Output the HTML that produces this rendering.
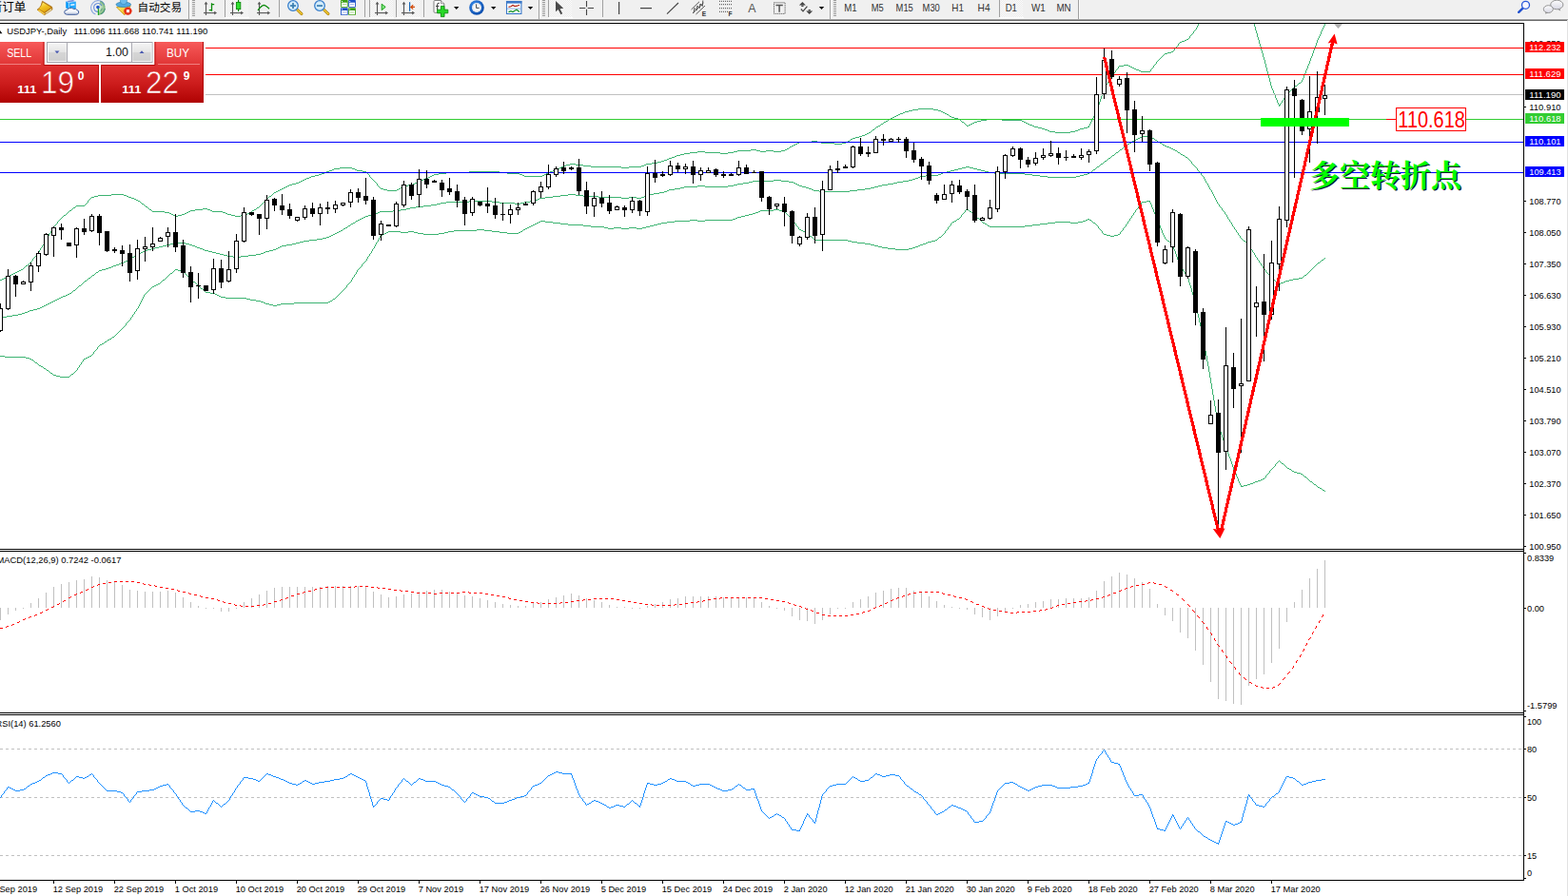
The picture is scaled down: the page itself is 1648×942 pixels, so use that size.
<!DOCTYPE html><html><head><meta charset="utf-8"><title>USDJPY Daily</title><style>html,body{margin:0;padding:0;background:#fff;overflow:hidden;font-family:"Liberation Sans",sans-serif}svg{display:block}</style></head><body><svg width="1648" height="942" viewBox="0 0 1648 942" font-family="Liberation Sans, sans-serif">
<defs><linearGradient id="gBtn" x1="0" y1="0" x2="0" y2="1"><stop offset="0" stop-color="#f75a5a"/><stop offset="1" stop-color="#e03434"/></linearGradient><linearGradient id="gBig" gradientUnits="userSpaceOnUse" x1="0" y1="68" x2="0" y2="108"><stop offset="0" stop-color="#e03232"/><stop offset="0.5" stop-color="#cc1c1c"/><stop offset="1" stop-color="#b00202"/></linearGradient><linearGradient id="gSpin" x1="0" y1="0" x2="0" y2="1"><stop offset="0" stop-color="#f4f4f4"/><stop offset="0.5" stop-color="#e4e4e4"/><stop offset="0.5" stop-color="#d6d6d6"/><stop offset="1" stop-color="#cfcfcf"/></linearGradient><pattern id="chk" width="2" height="2" patternUnits="userSpaceOnUse"><rect width="2" height="2" fill="#fbfbfb"/><rect width="1" height="1" fill="#ebebeb"/><rect x="1" y="1" width="1" height="1" fill="#ebebeb"/></pattern><linearGradient id="gGold" x1="0.2" y1="0" x2="0.7" y2="1"><stop offset="0" stop-color="#fff27a"/><stop offset="0.45" stop-color="#f2c21e"/><stop offset="1" stop-color="#dca010"/></linearGradient><linearGradient id="gCloud" x1="0" y1="0" x2="0" y2="1"><stop offset="0" stop-color="#ffffff"/><stop offset="0.55" stop-color="#f4f6fa"/><stop offset="1" stop-color="#b8c4dc"/></linearGradient><radialGradient id="gSigG" cx="103" cy="8" r="8" gradientUnits="userSpaceOnUse"><stop offset="0.2" stop-color="#c8e4c0" stop-opacity="0.5"/><stop offset="1" stop-color="#58a858" stop-opacity="0.95"/></radialGradient><linearGradient id="gFace" x1="0" y1="0" x2="0.6" y2="1"><stop offset="0" stop-color="#fff070"/><stop offset="1" stop-color="#eab420"/></linearGradient><radialGradient id="gClk" cx="0.4" cy="0.35" r="0.7"><stop offset="0" stop-color="#3a90f0"/><stop offset="1" stop-color="#0848a8"/></radialGradient><linearGradient id="gChat" x1="0" y1="0" x2="0" y2="1"><stop offset="0" stop-color="#fdfdfd"/><stop offset="1" stop-color="#d8d8e4"/></linearGradient></defs>
<rect x="0" y="0" width="1648" height="942" fill="#fff"/>
<clipPath id="cm"><rect x="0" y="25" width="1601" height="552"/></clipPath>
<g clip-path="url(#cm)" shape-rendering="crispEdges">
<path d="M1259 25h1M1318 25h1M1392 25h1M1259 26h1M1318 26h1M1392 26h1M1258 27h1M1318 27h1M1391 27h1M1258 28h1M1319 28h1M1391 28h1M1257 29h1M1319 29h1M1390 29h1M1257 30h1M1319 30h1M1390 30h1M1256 31h1M1319 31h1M1389 31h1M1255 32h1M1320 32h1M1389 32h1M1254 33h1M1320 33h1M1388 33h1M1254 34h1M1320 34h1M1388 34h1M1253 35h1M1321 35h1M1388 35h1M1252 36h1M1321 36h1M1387 36h1M1251 37h1M1321 37h1M1387 37h1M1250 38h1M1321 38h1M1386 38h1M1250 39h1M1322 39h1M1386 39h1M1249 40h1M1322 40h1M1385 40h1M1247 41h2M1322 41h1M1385 41h1M1245 42h2M1323 42h1M1384 42h1M1242 43h3M1323 43h1M1384 43h1M1240 44h2M1323 44h1M1384 44h1M1239 45h1M1323 45h1M1383 45h1M1238 46h1M1324 46h1M1383 46h1M1238 47h1M1324 47h1M1383 47h1M1237 48h1M1324 48h1M1382 48h1M1236 49h1M1325 49h1M1382 49h1M1235 50h1M1325 50h1M1381 50h1M1234 51h1M1325 51h1M1381 51h1M1234 52h1M1325 52h1M1381 52h1M1233 53h1M1326 53h1M1380 53h1M1231 54h2M1326 54h1M1380 54h1M1227 55h4M1326 55h1M1380 55h1M1224 56h3M1327 56h1M1379 56h1M1223 57h1M1327 57h1M1379 57h1M1222 58h1M1327 58h1M1379 58h1M1221 59h1M1327 59h1M1378 59h1M1220 60h1M1328 60h1M1378 60h1M1219 61h1M1328 61h1M1377 61h1M1218 62h1M1328 62h1M1377 62h1M1217 63h1M1329 63h1M1377 63h1M1216 64h1M1329 64h1M1376 64h1M1215 65h1M1329 65h1M1376 65h1M1215 66h1M1329 66h1M1376 66h1M1214 67h1M1330 67h1M1375 67h1M1181 68h5M1213 68h1M1330 68h1M1375 68h1M1176 69h5M1186 69h2M1212 69h1M1330 69h1M1374 69h1M1175 70h1M1188 70h2M1212 70h1M1330 70h1M1374 70h1M1175 71h1M1190 71h2M1211 71h1M1331 71h1M1374 71h1M1174 72h1M1192 72h2M1210 72h1M1331 72h1M1373 72h1M1173 73h1M1194 73h3M1209 73h1M1331 73h1M1373 73h1M1172 74h1M1197 74h2M1209 74h1M1331 74h1M1372 74h1M1172 75h1M1199 75h10M1332 75h1M1372 75h1M1171 76h1M1332 76h1M1372 76h1M1170 77h1M1332 77h1M1371 77h1M1169 78h1M1333 78h1M1371 78h1M1169 79h1M1333 79h1M1370 79h1M1168 80h1M1333 80h1M1370 80h1M1167 81h1M1333 81h1M1370 81h1M1167 82h1M1334 82h1M1369 82h1M1166 83h1M1334 83h1M1369 83h1M1166 84h1M1334 84h1M1368 84h1M1165 85h1M1334 85h1M1368 85h1M1164 86h1M1335 86h1M1367 86h1M1164 87h1M1335 87h1M1365 87h2M1163 88h1M1335 88h1M1364 88h1M1162 89h1M1335 89h1M1363 89h1M1162 90h1M1336 90h1M1361 90h2M1161 91h1M1336 91h1M1360 91h1M1161 92h1M1336 92h1M1359 92h1M1160 93h1M1337 93h1M1358 93h1M1160 94h1M1337 94h1M1357 94h1M1159 95h1M1338 95h1M1356 95h1M1159 96h1M1338 96h1M1355 96h1M1159 97h1M1338 97h1M1354 97h1M1158 98h1M1339 98h1M1353 98h1M1158 99h1M1339 99h1M1352 99h1M1158 100h1M1340 100h1M1351 100h1M1157 101h1M1340 101h1M1351 101h1M1157 102h1M1340 102h1M1350 102h1M1157 103h1M1341 103h1M1349 103h1M1156 104h1M1341 104h1M1349 104h1M1156 105h1M1342 105h1M1348 105h1M1156 106h1M1342 106h1M1347 106h1M1155 107h1M1342 107h1M1347 107h1M1155 108h1M1343 108h1M1346 108h1M1155 109h1M1343 109h1M1345 109h1M1154 110h1M1344 110h2M1154 111h1M1344 111h1M1154 112h1M1153 113h1M965 114h16M1153 114h1M959 115h6M981 115h5M1153 115h1M955 116h4M986 116h3M1152 116h1M951 117h4M989 117h2M1152 117h1M949 118h2M991 118h2M1151 118h1M946 119h3M993 119h2M1151 119h1M944 120h2M995 120h2M1150 120h1M942 121h2M997 121h1M1150 121h1M940 122h2M998 122h2M1149 122h1M938 123h2M1000 123h3M1149 123h1M936 124h2M1003 124h4M1148 124h1M934 125h2M1007 125h2M1037 125h16M1148 125h1M933 126h1M1009 126h1M1031 126h6M1053 126h21M1147 126h1M931 127h2M1010 127h1M1027 127h4M1074 127h2M1147 127h1M929 128h2M1011 128h2M1024 128h3M1076 128h2M1146 128h1M928 129h1M1013 129h1M1022 129h2M1078 129h2M1146 129h1M926 130h2M1014 130h1M1020 130h2M1080 130h2M1145 130h1M925 131h1M1015 131h1M1018 131h2M1082 131h3M1145 131h1M923 132h2M1016 132h2M1085 132h2M1144 132h1M921 133h2M1087 133h4M1143 133h2M920 134h1M1091 134h4M1139 134h4M919 135h1M1095 135h3M1135 135h4M917 136h2M1098 136h3M1133 136h2M916 137h1M1101 137h2M1130 137h3M915 138h1M1103 138h6M1125 138h5M913 139h2M1109 139h16M911 140h2M909 141h2M906 142h3M903 143h3M899 144h4M896 145h3M894 146h2M893 147h1M853 148h6M891 148h2M840 149h13M859 149h4M889 149h2M838 150h2M863 150h14M885 150h4M836 151h2M877 151h8M834 152h2M832 153h2M830 154h2M829 155h1M827 156h2M789 157h6M825 157h2M775 158h14M795 158h4M805 158h8M821 158h4M733 159h8M771 159h4M799 159h6M813 159h8M725 160h8M741 160h16M765 160h6M719 161h6M757 161h8M715 162h4M711 163h4M709 164h2M706 165h3M703 166h3M701 167h2M698 168h3M695 169h3M691 170h4M685 171h6M599 172h6M679 172h6M595 173h4M605 173h8M677 173h2M592 174h3M613 174h8M674 174h3M590 175h2M621 175h32M661 175h13M357 176h13M588 176h2M653 176h8M351 177h6M370 177h3M586 177h2M349 178h2M373 178h2M583 178h3M346 179h3M375 179h6M581 179h2M343 180h3M381 180h4M493 180h32M578 180h3M341 181h2M385 181h1M469 181h24M525 181h8M576 181h2M338 182h3M386 182h1M461 182h8M533 182h13M574 182h2M335 183h3M387 183h1M456 183h5M546 183h3M572 183h2M331 184h4M388 184h1M454 184h2M549 184h2M570 184h2M327 185h4M388 185h1M452 185h2M551 185h19M325 186h2M389 186h1M450 186h2M322 187h3M390 187h1M447 187h3M320 188h2M391 188h1M445 188h2M318 189h2M392 189h1M442 189h3M316 190h2M393 190h1M440 190h2M314 191h2M394 191h1M438 191h2M311 192h3M395 192h1M436 192h2M307 193h4M396 193h1M434 193h2M304 194h3M396 194h1M429 194h5M302 195h2M397 195h1M424 195h5M300 196h2M398 196h1M422 196h2M298 197h2M399 197h1M421 197h1M296 198h2M400 198h3M419 198h2M294 199h2M403 199h4M417 199h2M292 200h2M407 200h10M290 201h2M288 202h2M287 203h1M117 204h13M286 204h1M103 205h14M130 205h3M285 205h1M99 206h4M133 206h2M283 206h2M96 207h3M135 207h3M282 207h1M95 208h1M138 208h3M281 208h1M94 209h1M141 209h2M280 209h1M93 210h1M143 210h2M279 210h1M92 211h1M145 211h2M278 211h1M92 212h1M147 212h1M277 212h1M91 213h1M148 213h1M276 213h1M90 214h1M149 214h2M275 214h1M89 215h1M151 215h1M274 215h1M80 216h9M152 216h1M273 216h1M79 217h1M153 217h2M272 217h1M77 218h2M155 218h1M270 218h2M76 219h1M156 219h1M213 219h5M269 219h1M75 220h1M157 220h2M205 220h8M218 220h3M267 220h2M73 221h2M159 221h1M200 221h5M221 221h2M265 221h2M72 222h1M160 222h13M198 222h2M223 222h11M264 222h1M71 223h1M173 223h5M196 223h2M234 223h3M262 223h2M70 224h1M178 224h2M194 224h2M237 224h2M260 224h2M69 225h1M180 225h2M191 225h3M239 225h4M258 225h2M67 226h2M182 226h2M187 226h4M243 226h4M253 226h5M66 227h1M184 227h3M247 227h6M65 228h1M64 229h1M63 230h1M62 231h1M61 232h1M60 233h1M60 234h1M59 235h1M58 236h1M57 237h1M56 238h1M55 239h1M55 240h1M54 241h1M54 242h1M53 243h1M53 244h1M52 245h1M51 246h1M51 247h1M50 248h1M50 249h1M49 250h1M49 251h1M48 252h1M47 253h1M47 254h1M46 255h1M46 256h1M45 257h1M44 258h1M44 259h1M43 260h1M42 261h1M42 262h1M41 263h1M41 264h1M40 265h1M39 266h1M38 267h1M38 268h1M37 269h1M36 270h1M35 271h1M34 272h1M34 273h1M33 274h1M32 275h1M31 276h1M30 277h1M29 278h1M27 279h2M26 280h1M25 281h1M24 282h1M22 283h2M20 284h2M18 285h2M16 286h2M14 287h2M12 288h2M10 289h2M8 290h2M6 291h2M4 292h2M2 293h2M0 294h2" stroke="#3cb371" stroke-width="1" fill="none" transform="translate(0,0.5)"/>
<path d="M1200 143h9M1198 144h2M1209 144h2M1196 145h2M1211 145h2M1194 146h2M1213 146h1M1192 147h2M1214 147h2M1190 148h2M1216 148h1M1189 149h1M1217 149h2M1187 150h2M1219 150h2M1185 151h2M1221 151h1M1184 152h1M1222 152h2M1183 153h1M1224 153h2M1181 154h2M1226 154h3M1180 155h1M1229 155h2M1179 156h1M1231 156h2M1177 157h2M1233 157h2M1176 158h1M1235 158h2M1175 159h1M1237 159h1M1173 160h2M1238 160h2M1172 161h1M1240 161h1M1171 162h1M1241 162h2M1169 163h2M1243 163h2M1168 164h1M1245 164h1M1167 165h1M1246 165h2M1165 166h2M1248 166h1M1164 167h1M1249 167h1M1163 168h1M1250 168h1M1161 169h2M1251 169h1M1160 170h1M1252 170h1M1159 171h1M1252 171h1M1157 172h2M1253 172h1M1156 173h1M1254 173h1M1155 174h1M1255 174h1M1015 175h4M1153 175h2M1256 175h1M1011 176h4M1019 176h4M1152 176h1M1257 176h1M1007 177h4M1023 177h4M1151 177h1M1258 177h1M1003 178h4M1027 178h4M1149 178h2M1258 178h1M999 179h4M1031 179h4M1148 179h1M1259 179h1M995 180h4M1035 180h4M1147 180h1M1260 180h1M991 181h4M1039 181h6M1145 181h2M1261 181h1M989 182h2M1045 182h32M1143 182h2M1262 182h1M986 183h3M1077 183h8M1139 183h4M1262 183h1M973 184h13M1085 184h8M1135 184h4M1263 184h1M967 185h6M1093 185h8M1131 185h4M1264 185h1M965 186h2M1101 186h30M1265 186h1M962 187h3M1265 187h1M959 188h3M1266 188h1M813 189h8M955 189h4M1266 189h1M791 190h22M821 190h8M949 190h6M1267 190h1M787 191h4M829 191h5M943 191h6M1267 191h1M781 192h6M834 192h2M939 192h4M1268 192h1M775 193h6M836 193h2M933 193h6M1269 193h1M771 194h4M838 194h2M927 194h6M1269 194h1M733 195h8M765 195h6M840 195h3M923 195h4M1270 195h1M719 196h14M741 196h24M843 196h4M919 196h4M1270 196h1M715 197h4M847 197h3M915 197h4M1271 197h1M709 198h6M850 198h3M909 198h6M1271 198h1M703 199h6M853 199h2M901 199h8M1272 199h1M701 200h2M855 200h6M893 200h8M1273 200h1M698 201h3M861 201h32M1273 201h1M693 202h5M1274 202h1M687 203h6M1274 203h1M597 204h8M683 204h4M1275 204h1M589 205h8M605 205h8M679 205h4M1275 205h1M581 206h8M613 206h16M677 206h2M1276 206h1M573 207h8M629 207h24M661 207h8M674 207h3M1276 207h1M567 208h6M653 208h8M669 208h5M1277 208h1M565 209h2M1277 209h1M562 210h3M1278 210h1M493 211h24M557 211h5M1278 211h1M469 212h24M517 212h8M551 212h6M1279 212h1M463 213h6M525 213h16M547 213h4M1279 213h1M459 214h4M541 214h6M1280 214h1M453 215h6M1281 215h1M445 216h8M1281 216h1M437 217h8M1282 217h1M431 218h6M1283 218h1M427 219h4M1284 219h1M421 220h6M1284 220h1M413 221h8M1285 221h1M399 222h14M1286 222h1M397 223h2M1287 223h1M394 224h3M1287 224h1M391 225h3M1288 225h1M387 226h4M1289 226h1M384 227h3M1289 227h1M382 228h2M1290 228h1M380 229h2M1290 229h1M378 230h2M1291 230h1M376 231h2M1292 231h1M374 232h2M1292 232h1M373 233h1M1293 233h1M371 234h2M1294 234h1M369 235h2M1294 235h1M368 236h1M1295 236h1M366 237h2M1295 237h1M365 238h1M1296 238h1M363 239h2M1297 239h1M361 240h2M1297 240h1M360 241h1M1298 241h1M358 242h2M1299 242h1M356 243h2M1299 243h1M354 244h2M1300 244h1M352 245h2M1301 245h1M350 246h2M1301 246h1M348 247h2M1302 247h1M346 248h2M1303 248h1M343 249h3M1303 249h1M339 250h4M1304 250h1M333 251h6M1305 251h1M325 252h8M1306 252h1M319 253h6M1307 253h2M315 254h4M1309 254h1M183 255h12M311 255h4M1310 255h1M179 256h4M195 256h4M307 256h4M1311 256h1M175 257h4M199 257h3M301 257h6M1312 257h1M171 258h4M202 258h3M296 258h5M1313 258h1M167 259h4M205 259h2M294 259h2M1313 259h1M163 260h4M207 260h3M292 260h2M1314 260h1M159 261h4M210 261h3M290 261h2M1314 261h1M155 262h4M213 262h2M287 262h3M1315 262h1M152 263h3M215 263h4M283 263h4M1316 263h1M150 264h2M219 264h4M279 264h4M1316 264h1M148 265h2M223 265h4M277 265h2M1317 265h1M146 266h2M227 266h4M274 266h3M1318 266h1M144 267h2M231 267h4M269 267h5M1318 267h1M142 268h2M235 268h4M261 268h8M1319 268h1M141 269h1M239 269h6M253 269h8M1319 269h1M139 270h2M245 270h8M1320 270h1M137 271h2M1321 271h1M1392 271h1M136 272h1M1321 272h1M1391 272h1M134 273h2M1322 273h1M1389 273h2M132 274h2M1323 274h1M1388 274h1M130 275h2M1323 275h1M1387 275h1M127 276h3M1324 276h1M1385 276h2M125 277h2M1325 277h1M1384 277h1M122 278h3M1325 278h1M1383 278h1M119 279h3M1326 279h1M1382 279h1M117 280h2M1327 280h1M1381 280h1M114 281h3M1327 281h1M1380 281h1M111 282h3M1328 282h1M1379 282h1M107 283h4M1329 283h1M1378 283h1M104 284h3M1330 284h1M1377 284h1M103 285h1M1330 285h1M1376 285h1M101 286h2M1331 286h1M1375 286h1M100 287h1M1332 287h1M1374 287h1M99 288h1M1333 288h1M1373 288h1M97 289h2M1334 289h1M1371 289h2M96 290h1M1334 290h1M1370 290h1M95 291h1M1335 291h1M1369 291h1M93 292h2M1336 292h1M1365 292h4M92 293h1M1337 293h2M1359 293h6M91 294h1M1339 294h1M1355 294h4M89 295h2M1340 295h1M1351 295h4M88 296h1M1341 296h2M1349 296h2M87 297h1M1343 297h1M1346 297h3M86 298h1M1344 298h2M85 299h1M83 300h2M82 301h1M81 302h1M80 303h1M79 304h1M77 305h2M76 306h1M75 307h1M73 308h2M71 309h2M69 310h2M66 311h3M64 312h2M62 313h2M60 314h2M58 315h2M56 316h2M54 317h2M52 318h2M50 319h2M48 320h2M46 321h2M44 322h2M42 323h2M39 324h3M35 325h4M31 326h4M29 327h2M26 328h3M23 329h3M19 330h4M13 331h6M7 332h6M3 333h4M0 334h3" stroke="#3cb371" stroke-width="1" fill="none" transform="translate(0,0.5)"/>
<path d="M1205 211h4M1200 212h5M1208 212h1M1199 213h1M1209 213h1M1199 214h1M1209 214h1M1198 215h1M1210 215h1M1197 216h1M1210 216h1M1196 217h1M1210 217h1M1196 218h1M1211 218h1M1016 219h1M1195 219h1M1211 219h1M813 220h6M1015 220h1M1017 220h1M1194 220h1M1212 220h1M799 221h14M819 221h4M1014 221h1M1018 221h1M1193 221h1M1212 221h1M797 222h2M823 222h2M1014 222h1M1019 222h2M1193 222h1M1212 222h1M794 223h3M825 223h1M1013 223h1M1021 223h1M1192 223h1M1213 223h1M791 224h3M826 224h1M1012 224h1M1022 224h1M1191 224h1M1213 224h1M787 225h4M827 225h1M1011 225h1M1023 225h1M1191 225h1M1214 225h1M783 226h4M828 226h1M1010 226h1M1024 226h1M1190 226h1M1214 226h1M779 227h4M829 227h1M1010 227h1M1025 227h1M1189 227h1M1214 227h1M775 228h4M830 228h1M1009 228h1M1026 228h1M1189 228h1M1215 228h1M773 229h2M831 229h1M1008 229h1M1027 229h2M1188 229h1M1215 229h1M770 230h3M832 230h1M1006 230h2M1029 230h1M1143 230h2M1187 230h1M1216 230h1M725 231h8M741 231h29M833 231h1M1005 231h1M1030 231h1M1141 231h2M1145 231h2M1187 231h1M1216 231h1M568 232h5M709 232h16M733 232h8M833 232h1M1003 232h2M1031 232h1M1138 232h3M1147 232h1M1186 232h1M1216 232h1M566 233h2M573 233h8M701 233h8M834 233h1M1001 233h2M1032 233h1M1109 233h16M1133 233h5M1148 233h1M1185 233h1M1217 233h1M564 234h2M581 234h8M695 234h6M835 234h1M1000 234h1M1033 234h2M1101 234h8M1125 234h8M1149 234h2M1185 234h1M1217 234h1M562 235h2M589 235h8M691 235h4M836 235h1M999 235h1M1035 235h2M1093 235h8M1151 235h1M1184 235h1M1218 235h1M560 236h2M597 236h16M687 236h4M836 236h1M999 236h1M1037 236h1M1085 236h8M1152 236h1M1183 236h1M1218 236h1M558 237h2M613 237h8M683 237h4M837 237h1M998 237h1M1038 237h2M1077 237h8M1153 237h1M1183 237h1M1219 237h1M556 238h2M621 238h14M679 238h4M838 238h1M997 238h1M1040 238h37M1154 238h1M1182 238h1M1219 238h1M554 239h2M635 239h4M645 239h8M661 239h8M675 239h4M839 239h1M996 239h1M1154 239h1M1181 239h1M1219 239h1M552 240h2M639 240h6M653 240h8M669 240h6M839 240h1M996 240h1M1155 240h1M1180 240h1M1220 240h1M501 241h8M550 241h2M840 241h2M995 241h1M1156 241h1M1180 241h1M1220 241h1M477 242h24M509 242h8M549 242h1M842 242h2M994 242h1M1157 242h1M1179 242h1M1221 242h1M408 243h13M429 243h6M471 243h6M517 243h8M547 243h2M844 243h2M993 243h1M1158 243h1M1178 243h1M1221 243h1M406 244h2M421 244h8M435 244h4M467 244h4M525 244h8M545 244h2M846 244h2M993 244h1M1158 244h1M1177 244h1M1221 244h1M404 245h2M439 245h6M461 245h6M533 245h12M848 245h1M992 245h1M1159 245h1M1177 245h1M1222 245h1M402 246h2M445 246h16M849 246h1M991 246h1M1160 246h3M1175 246h2M1222 246h1M400 247h2M850 247h1M990 247h1M1163 247h4M1171 247h4M1223 247h1M399 248h1M851 248h2M989 248h1M1167 248h4M1223 248h1M399 249h1M853 249h1M987 249h2M1224 249h1M398 250h1M854 250h1M986 250h1M1224 250h1M398 251h1M855 251h1M985 251h1M1225 251h1M397 252h1M856 252h35M983 252h2M1226 252h1M397 253h1M891 253h4M979 253h4M1227 253h2M396 254h1M895 254h6M975 254h4M1229 254h1M395 255h1M901 255h8M973 255h2M1230 255h1M395 256h1M909 256h6M970 256h3M1231 256h1M394 257h1M915 257h4M967 257h3M1232 257h1M394 258h1M919 258h4M965 258h2M1232 258h1M393 259h1M923 259h4M962 259h3M1233 259h1M393 260h1M927 260h6M959 260h3M1233 260h1M392 261h1M933 261h8M955 261h4M1233 261h1M391 262h1M941 262h14M1234 262h1M391 263h1M1234 263h1M390 264h1M1235 264h1M390 265h1M1235 265h1M389 266h1M1235 266h1M388 267h1M1236 267h1M388 268h1M1236 268h1M387 269h1M1236 269h1M386 270h1M1237 270h1M386 271h1M1237 271h1M385 272h1M1237 272h1M385 273h1M1238 273h1M384 274h1M1238 274h1M383 275h1M1239 275h1M382 276h1M1239 276h1M381 277h1M1239 277h1M380 278h1M1240 278h1M380 279h1M1240 279h1M379 280h1M1241 280h1M378 281h1M1241 281h1M377 282h1M1242 282h1M184 283h3M376 283h1M1243 283h1M183 284h1M187 284h4M375 284h1M1243 284h1M182 285h1M191 285h2M375 285h1M1244 285h1M181 286h1M193 286h1M374 286h1M1245 286h1M179 287h2M194 287h1M374 287h1M1245 287h1M178 288h1M195 288h1M373 288h1M1246 288h1M177 289h1M196 289h1M372 289h1M1247 289h1M176 290h1M197 290h1M372 290h1M1247 290h1M175 291h1M198 291h1M371 291h1M1248 291h1M174 292h1M199 292h1M370 292h1M1248 292h1M173 293h1M200 293h1M370 293h1M1249 293h1M171 294h2M201 294h1M369 294h1M1249 294h1M170 295h1M202 295h1M369 295h1M1249 295h1M169 296h1M203 296h2M368 296h1M1249 296h1M168 297h1M205 297h1M367 297h1M1250 297h1M166 298h2M206 298h1M366 298h1M1250 298h1M164 299h2M207 299h1M365 299h1M1250 299h1M162 300h2M208 300h1M364 300h1M1251 300h1M160 301h2M209 301h1M364 301h1M1251 301h1M159 302h1M210 302h1M363 302h1M1251 302h1M158 303h1M211 303h2M362 303h1M1252 303h1M157 304h1M213 304h1M361 304h1M1252 304h1M156 305h1M214 305h1M360 305h1M1252 305h1M155 306h1M215 306h1M359 306h1M1252 306h1M154 307h1M216 307h5M358 307h1M1253 307h1M153 308h1M221 308h5M357 308h1M1253 308h1M152 309h1M226 309h2M356 309h1M1253 309h1M151 310h1M228 310h2M355 310h1M1254 310h1M151 311h1M230 311h2M354 311h1M1254 311h1M150 312h1M232 312h5M353 312h1M1254 312h1M150 313h1M237 313h22M352 313h1M1255 313h1M149 314h1M259 314h4M350 314h2M1255 314h1M149 315h1M263 315h6M349 315h1M1255 315h1M148 316h1M269 316h5M347 316h2M1255 316h1M148 317h1M274 317h3M345 317h2M1256 317h1M147 318h1M277 318h2M309 318h36M1256 318h1M147 319h1M279 319h4M295 319h14M1256 319h1M146 320h1M283 320h4M291 320h4M1256 320h1M146 321h1M287 321h4M1257 321h1M145 322h1M1257 322h1M145 323h1M1257 323h1M144 324h1M1257 324h1M143 325h1M1258 325h1M143 326h1M1258 326h1M142 327h1M1258 327h1M141 328h1M1258 328h1M141 329h1M1258 329h1M140 330h1M1259 330h1M139 331h1M1259 331h1M139 332h1M1259 332h1M138 333h1M1259 333h1M137 334h1M1260 334h1M137 335h1M1260 335h1M136 336h1M1260 336h1M135 337h1M1260 337h1M134 338h1M1260 338h1M133 339h1M1261 339h1M132 340h1M1261 340h1M132 341h1M1261 341h1M131 342h1M1261 342h1M130 343h1M1262 343h1M129 344h1M1262 344h1M128 345h1M1262 345h1M127 346h1M1262 346h1M126 347h1M1262 347h1M125 348h1M1263 348h1M124 349h1M1263 349h1M123 350h1M1263 350h1M122 351h1M1263 351h1M121 352h1M1264 352h1M120 353h1M1264 353h1M118 354h2M1264 354h1M117 355h1M1264 355h1M115 356h2M1264 356h1M113 357h2M1265 357h1M112 358h1M1265 358h1M110 359h2M1265 359h1M109 360h1M1265 360h1M107 361h2M1265 361h1M105 362h2M1265 362h1M104 363h1M1266 363h1M103 364h1M1266 364h1M102 365h1M1266 365h1M102 366h1M1266 366h1M101 367h1M1266 367h1M100 368h1M1266 368h1M99 369h1M1267 369h1M98 370h1M1267 370h1M98 371h1M1267 371h1M97 372h1M1267 372h1M96 373h1M1267 373h1M0 374h5M94 374h2M1268 374h1M5 375h22M92 375h2M1268 375h1M27 376h4M90 376h2M1268 376h1M31 377h2M88 377h2M1268 377h1M33 378h2M87 378h1M1268 378h1M35 379h1M87 379h1M1268 379h1M36 380h1M86 380h1M1269 380h1M37 381h2M85 381h1M1269 381h1M39 382h1M85 382h1M1269 382h1M40 383h1M84 383h1M1269 383h1M41 384h2M83 384h1M1269 384h1M43 385h2M83 385h1M1270 385h1M45 386h1M82 386h1M1270 386h1M46 387h2M81 387h1M1270 387h1M48 388h1M81 388h1M1270 388h1M49 389h2M80 389h1M1270 389h1M51 390h1M79 390h1M1270 390h1M52 391h1M78 391h1M1271 391h1M53 392h2M77 392h1M1271 392h1M55 393h1M75 393h2M1271 393h1M56 394h3M74 394h1M1271 394h1M59 395h4M73 395h1M1271 395h1M63 396h10M1271 396h1M1272 397h1M1272 398h1M1272 399h1M1272 400h1M1272 401h1M1272 402h1M1273 403h1M1273 404h1M1273 405h1M1273 406h1M1273 407h1M1273 408h1M1274 409h1M1274 410h1M1274 411h1M1274 412h1M1274 413h1M1274 414h1M1275 415h1M1275 416h1M1275 417h1M1275 418h1M1275 419h1M1275 420h1M1276 421h1M1276 422h1M1276 423h1M1276 424h1M1276 425h1M1276 426h1M1277 427h1M1277 428h1M1277 429h1M1277 430h1M1277 431h1M1277 432h1M1278 433h1M1278 434h1M1278 435h1M1278 436h1M1278 437h1M1278 438h1M1279 439h1M1279 440h1M1279 441h1M1279 442h1M1279 443h1M1279 444h1M1280 445h1M1280 446h1M1280 447h1M1280 448h1M1281 449h1M1281 450h1M1281 451h1M1282 452h1M1282 453h1M1283 454h1M1283 455h1M1283 456h1M1284 457h1M1284 458h1M1284 459h1M1285 460h1M1285 461h1M1285 462h1M1286 463h1M1286 464h1M1287 465h1M1287 466h1M1287 467h1M1288 468h1M1288 469h1M1288 470h1M1289 471h1M1289 472h1M1289 473h1M1290 474h1M1290 475h1M1290 476h1M1291 477h1M1291 478h1M1291 479h1M1292 480h1M1292 481h1M1293 482h1M1293 483h1M1293 484h1M1344 484h1M1294 485h1M1343 485h1M1345 485h1M1294 486h1M1342 486h1M1346 486h1M1294 487h1M1341 487h1M1347 487h2M1295 488h1M1340 488h1M1349 488h1M1295 489h1M1340 489h1M1350 489h1M1295 490h1M1339 490h1M1351 490h1M1296 491h1M1338 491h1M1352 491h1M1296 492h1M1337 492h1M1353 492h2M1296 493h1M1336 493h1M1355 493h2M1297 494h1M1335 494h1M1357 494h1M1297 495h1M1334 495h1M1358 495h2M1298 496h1M1334 496h1M1360 496h3M1298 497h1M1333 497h1M1363 497h4M1299 498h1M1332 498h1M1367 498h2M1299 499h1M1331 499h1M1369 499h1M1299 500h1M1330 500h1M1370 500h1M1300 501h1M1330 501h1M1371 501h2M1300 502h1M1329 502h1M1373 502h1M1301 503h1M1327 503h2M1374 503h1M1301 504h1M1325 504h2M1375 504h1M1301 505h1M1322 505h3M1376 505h1M1302 506h1M1319 506h3M1377 506h2M1302 507h1M1317 507h2M1379 507h1M1303 508h1M1314 508h3M1380 508h1M1303 509h1M1311 509h3M1381 509h2M1304 510h1M1307 510h4M1383 510h1M1304 511h3M1384 511h1M1385 512h2M1387 513h2M1389 514h1M1390 515h2M1392 516h1" stroke="#3cb371" stroke-width="1" fill="none" transform="translate(0,0.5)"/>
</g>
<g shape-rendering="crispEdges">
<rect x="0" y="50" width="1601" height="1" fill="#ff0000"/>
<rect x="0" y="78" width="1601" height="1" fill="#ff0000"/>
<rect x="0" y="99" width="1601" height="1" fill="#c0c0c0"/>
<rect x="0" y="125" width="1601" height="1" fill="#32cd32"/>
<rect x="0" y="149" width="1601" height="1" fill="#0000ff"/>
<rect x="0" y="181" width="1601" height="1" fill="#0000ff"/>
</g>
<g shape-rendering="crispEdges">
<rect x="0" y="319" width="1" height="30" fill="#000"/>
<rect x="0" y="324" width="3" height="24" fill="#000"/>
<rect x="0" y="325" width="2" height="22" fill="#fff"/>
<rect x="8" y="283" width="1" height="43" fill="#000"/>
<rect x="6" y="290" width="5" height="35" fill="#000"/>
<rect x="7" y="291" width="3" height="33" fill="#fff"/>
<rect x="16" y="289" width="1" height="23" fill="#000"/>
<rect x="14" y="290" width="5" height="9" fill="#000"/>
<rect x="24" y="295" width="1" height="4" fill="#000"/>
<rect x="22" y="296" width="5" height="3" fill="#000"/>
<rect x="23" y="297" width="3" height="1" fill="#fff"/>
<rect x="32" y="276" width="1" height="30" fill="#000"/>
<rect x="30" y="279" width="5" height="18" fill="#000"/>
<rect x="31" y="280" width="3" height="16" fill="#fff"/>
<rect x="40" y="264" width="1" height="22" fill="#000"/>
<rect x="38" y="266" width="5" height="14" fill="#000"/>
<rect x="39" y="267" width="3" height="12" fill="#fff"/>
<rect x="48" y="245" width="1" height="24" fill="#000"/>
<rect x="46" y="246" width="5" height="22" fill="#000"/>
<rect x="47" y="247" width="3" height="20" fill="#fff"/>
<rect x="56" y="238" width="1" height="32" fill="#000"/>
<rect x="54" y="239" width="5" height="9" fill="#000"/>
<rect x="55" y="240" width="3" height="7" fill="#fff"/>
<rect x="64" y="235" width="1" height="17" fill="#000"/>
<rect x="62" y="239" width="5" height="3" fill="#000"/>
<rect x="72" y="255" width="1" height="4" fill="#000"/>
<rect x="70" y="255" width="5" height="4" fill="#000"/>
<rect x="80" y="239" width="1" height="32" fill="#000"/>
<rect x="78" y="240" width="5" height="18" fill="#000"/>
<rect x="79" y="241" width="3" height="16" fill="#fff"/>
<rect x="88" y="230" width="1" height="17" fill="#000"/>
<rect x="86" y="240" width="5" height="4" fill="#000"/>
<rect x="96" y="225" width="1" height="19" fill="#000"/>
<rect x="94" y="227" width="5" height="16" fill="#000"/>
<rect x="95" y="228" width="3" height="14" fill="#fff"/>
<rect x="104" y="225" width="1" height="33" fill="#000"/>
<rect x="102" y="227" width="5" height="18" fill="#000"/>
<rect x="112" y="243" width="1" height="22" fill="#000"/>
<rect x="110" y="243" width="5" height="21" fill="#000"/>
<rect x="120" y="260" width="1" height="6" fill="#000"/>
<rect x="118" y="262" width="5" height="2" fill="#000"/>
<rect x="128" y="258" width="1" height="22" fill="#000"/>
<rect x="126" y="263" width="5" height="4" fill="#000"/>
<rect x="136" y="257" width="1" height="39" fill="#000"/>
<rect x="134" y="266" width="5" height="21" fill="#000"/>
<rect x="144" y="252" width="1" height="42" fill="#000"/>
<rect x="142" y="261" width="5" height="24" fill="#000"/>
<rect x="143" y="262" width="3" height="22" fill="#fff"/>
<rect x="152" y="249" width="1" height="26" fill="#000"/>
<rect x="150" y="259" width="5" height="3" fill="#000"/>
<rect x="151" y="260" width="3" height="1" fill="#fff"/>
<rect x="160" y="239" width="1" height="25" fill="#000"/>
<rect x="158" y="256" width="5" height="4" fill="#000"/>
<rect x="159" y="257" width="3" height="2" fill="#fff"/>
<rect x="168" y="249" width="1" height="5" fill="#000"/>
<rect x="166" y="250" width="5" height="4" fill="#000"/>
<rect x="167" y="251" width="3" height="2" fill="#fff"/>
<rect x="176" y="239" width="1" height="21" fill="#000"/>
<rect x="174" y="244" width="5" height="5" fill="#000"/>
<rect x="175" y="245" width="3" height="3" fill="#fff"/>
<rect x="184" y="225" width="1" height="40" fill="#000"/>
<rect x="182" y="244" width="5" height="16" fill="#000"/>
<rect x="192" y="252" width="1" height="40" fill="#000"/>
<rect x="190" y="258" width="5" height="29" fill="#000"/>
<rect x="200" y="280" width="1" height="38" fill="#000"/>
<rect x="198" y="286" width="5" height="16" fill="#000"/>
<rect x="208" y="287" width="1" height="27" fill="#000"/>
<rect x="206" y="300" width="5" height="1" fill="#000"/>
<rect x="216" y="300" width="1" height="6" fill="#000"/>
<rect x="214" y="300" width="5" height="6" fill="#000"/>
<rect x="224" y="272" width="1" height="37" fill="#000"/>
<rect x="222" y="282" width="5" height="23" fill="#000"/>
<rect x="223" y="283" width="3" height="21" fill="#fff"/>
<rect x="232" y="273" width="1" height="30" fill="#000"/>
<rect x="230" y="282" width="5" height="15" fill="#000"/>
<rect x="240" y="264" width="1" height="33" fill="#000"/>
<rect x="238" y="283" width="5" height="13" fill="#000"/>
<rect x="239" y="284" width="3" height="11" fill="#fff"/>
<rect x="248" y="246" width="1" height="41" fill="#000"/>
<rect x="246" y="253" width="5" height="30" fill="#000"/>
<rect x="247" y="254" width="3" height="28" fill="#fff"/>
<rect x="256" y="218" width="1" height="37" fill="#000"/>
<rect x="254" y="223" width="5" height="31" fill="#000"/>
<rect x="255" y="224" width="3" height="29" fill="#fff"/>
<rect x="264" y="223" width="1" height="4" fill="#000"/>
<rect x="262" y="223" width="5" height="3" fill="#000"/>
<rect x="272" y="225" width="1" height="22" fill="#000"/>
<rect x="270" y="225" width="5" height="5" fill="#000"/>
<rect x="280" y="205" width="1" height="36" fill="#000"/>
<rect x="278" y="210" width="5" height="20" fill="#000"/>
<rect x="279" y="211" width="3" height="18" fill="#fff"/>
<rect x="288" y="208" width="1" height="14" fill="#000"/>
<rect x="286" y="209" width="5" height="7" fill="#000"/>
<rect x="296" y="204" width="1" height="22" fill="#000"/>
<rect x="294" y="216" width="5" height="5" fill="#000"/>
<rect x="304" y="214" width="1" height="16" fill="#000"/>
<rect x="302" y="220" width="5" height="7" fill="#000"/>
<rect x="312" y="228" width="1" height="5" fill="#000"/>
<rect x="310" y="228" width="5" height="4" fill="#000"/>
<rect x="311" y="229" width="3" height="2" fill="#fff"/>
<rect x="320" y="216" width="1" height="15" fill="#000"/>
<rect x="318" y="219" width="5" height="10" fill="#000"/>
<rect x="319" y="220" width="3" height="8" fill="#fff"/>
<rect x="328" y="213" width="1" height="15" fill="#000"/>
<rect x="326" y="219" width="5" height="6" fill="#000"/>
<rect x="336" y="214" width="1" height="23" fill="#000"/>
<rect x="334" y="218" width="5" height="7" fill="#000"/>
<rect x="335" y="219" width="3" height="5" fill="#fff"/>
<rect x="344" y="212" width="1" height="13" fill="#000"/>
<rect x="342" y="218" width="5" height="2" fill="#000"/>
<rect x="352" y="211" width="1" height="13" fill="#000"/>
<rect x="350" y="215" width="5" height="5" fill="#000"/>
<rect x="351" y="216" width="3" height="3" fill="#fff"/>
<rect x="360" y="213" width="1" height="4" fill="#000"/>
<rect x="358" y="213" width="5" height="3" fill="#000"/>
<rect x="359" y="214" width="3" height="1" fill="#fff"/>
<rect x="368" y="199" width="1" height="19" fill="#000"/>
<rect x="366" y="202" width="5" height="11" fill="#000"/>
<rect x="367" y="203" width="3" height="9" fill="#fff"/>
<rect x="376" y="198" width="1" height="15" fill="#000"/>
<rect x="374" y="202" width="5" height="6" fill="#000"/>
<rect x="384" y="187" width="1" height="28" fill="#000"/>
<rect x="382" y="206" width="5" height="5" fill="#000"/>
<rect x="392" y="207" width="1" height="45" fill="#000"/>
<rect x="390" y="210" width="5" height="38" fill="#000"/>
<rect x="400" y="232" width="1" height="21" fill="#000"/>
<rect x="398" y="235" width="5" height="12" fill="#000"/>
<rect x="399" y="236" width="3" height="10" fill="#fff"/>
<rect x="408" y="236" width="1" height="2" fill="#000"/>
<rect x="406" y="236" width="5" height="2" fill="#000"/>
<rect x="416" y="212" width="1" height="27" fill="#000"/>
<rect x="414" y="214" width="5" height="24" fill="#000"/>
<rect x="415" y="215" width="3" height="22" fill="#fff"/>
<rect x="424" y="190" width="1" height="28" fill="#000"/>
<rect x="422" y="194" width="5" height="22" fill="#000"/>
<rect x="423" y="195" width="3" height="20" fill="#fff"/>
<rect x="432" y="192" width="1" height="18" fill="#000"/>
<rect x="430" y="194" width="5" height="12" fill="#000"/>
<rect x="440" y="178" width="1" height="40" fill="#000"/>
<rect x="438" y="188" width="5" height="17" fill="#000"/>
<rect x="439" y="189" width="3" height="15" fill="#fff"/>
<rect x="448" y="179" width="1" height="19" fill="#000"/>
<rect x="446" y="188" width="5" height="6" fill="#000"/>
<rect x="456" y="189" width="1" height="3" fill="#000"/>
<rect x="454" y="190" width="5" height="2" fill="#000"/>
<rect x="464" y="189" width="1" height="18" fill="#000"/>
<rect x="462" y="192" width="5" height="8" fill="#000"/>
<rect x="472" y="187" width="1" height="18" fill="#000"/>
<rect x="470" y="198" width="5" height="4" fill="#000"/>
<rect x="480" y="194" width="1" height="24" fill="#000"/>
<rect x="478" y="201" width="5" height="10" fill="#000"/>
<rect x="488" y="207" width="1" height="30" fill="#000"/>
<rect x="486" y="210" width="5" height="15" fill="#000"/>
<rect x="496" y="207" width="1" height="20" fill="#000"/>
<rect x="494" y="209" width="5" height="15" fill="#000"/>
<rect x="495" y="210" width="3" height="13" fill="#fff"/>
<rect x="504" y="212" width="1" height="5" fill="#000"/>
<rect x="502" y="212" width="5" height="4" fill="#000"/>
<rect x="512" y="197" width="1" height="27" fill="#000"/>
<rect x="510" y="214" width="5" height="3" fill="#000"/>
<rect x="520" y="208" width="1" height="22" fill="#000"/>
<rect x="518" y="216" width="5" height="10" fill="#000"/>
<rect x="528" y="213" width="1" height="19" fill="#000"/>
<rect x="526" y="225" width="5" height="1" fill="#000"/>
<rect x="536" y="215" width="1" height="20" fill="#000"/>
<rect x="534" y="220" width="5" height="6" fill="#000"/>
<rect x="535" y="221" width="3" height="4" fill="#fff"/>
<rect x="544" y="213" width="1" height="13" fill="#000"/>
<rect x="542" y="218" width="5" height="3" fill="#000"/>
<rect x="543" y="219" width="3" height="1" fill="#fff"/>
<rect x="552" y="212" width="1" height="4" fill="#000"/>
<rect x="550" y="214" width="5" height="2" fill="#000"/>
<rect x="560" y="200" width="1" height="16" fill="#000"/>
<rect x="558" y="201" width="5" height="13" fill="#000"/>
<rect x="559" y="202" width="3" height="11" fill="#fff"/>
<rect x="568" y="191" width="1" height="17" fill="#000"/>
<rect x="566" y="196" width="5" height="6" fill="#000"/>
<rect x="567" y="197" width="3" height="4" fill="#fff"/>
<rect x="576" y="173" width="1" height="26" fill="#000"/>
<rect x="574" y="183" width="5" height="14" fill="#000"/>
<rect x="575" y="184" width="3" height="12" fill="#fff"/>
<rect x="584" y="175" width="1" height="11" fill="#000"/>
<rect x="582" y="177" width="5" height="7" fill="#000"/>
<rect x="583" y="178" width="3" height="5" fill="#fff"/>
<rect x="592" y="170" width="1" height="13" fill="#000"/>
<rect x="590" y="176" width="5" height="4" fill="#000"/>
<rect x="600" y="175" width="1" height="4" fill="#000"/>
<rect x="598" y="176" width="5" height="2" fill="#000"/>
<rect x="608" y="167" width="1" height="38" fill="#000"/>
<rect x="606" y="176" width="5" height="25" fill="#000"/>
<rect x="616" y="191" width="1" height="34" fill="#000"/>
<rect x="614" y="200" width="5" height="17" fill="#000"/>
<rect x="624" y="202" width="1" height="26" fill="#000"/>
<rect x="622" y="208" width="5" height="9" fill="#000"/>
<rect x="623" y="209" width="3" height="7" fill="#fff"/>
<rect x="632" y="201" width="1" height="17" fill="#000"/>
<rect x="630" y="208" width="5" height="6" fill="#000"/>
<rect x="640" y="205" width="1" height="20" fill="#000"/>
<rect x="638" y="213" width="5" height="9" fill="#000"/>
<rect x="648" y="216" width="1" height="5" fill="#000"/>
<rect x="646" y="217" width="5" height="4" fill="#000"/>
<rect x="647" y="218" width="3" height="2" fill="#fff"/>
<rect x="656" y="216" width="1" height="12" fill="#000"/>
<rect x="654" y="218" width="5" height="3" fill="#000"/>
<rect x="664" y="207" width="1" height="17" fill="#000"/>
<rect x="662" y="211" width="5" height="10" fill="#000"/>
<rect x="663" y="212" width="3" height="8" fill="#fff"/>
<rect x="672" y="210" width="1" height="17" fill="#000"/>
<rect x="670" y="211" width="5" height="11" fill="#000"/>
<rect x="680" y="175" width="1" height="52" fill="#000"/>
<rect x="678" y="182" width="5" height="41" fill="#000"/>
<rect x="679" y="183" width="3" height="39" fill="#fff"/>
<rect x="688" y="168" width="1" height="24" fill="#000"/>
<rect x="686" y="182" width="5" height="5" fill="#000"/>
<rect x="696" y="180" width="1" height="6" fill="#000"/>
<rect x="694" y="183" width="5" height="2" fill="#000"/>
<rect x="704" y="169" width="1" height="16" fill="#000"/>
<rect x="702" y="174" width="5" height="10" fill="#000"/>
<rect x="703" y="175" width="3" height="8" fill="#fff"/>
<rect x="712" y="171" width="1" height="10" fill="#000"/>
<rect x="710" y="174" width="5" height="4" fill="#000"/>
<rect x="720" y="172" width="1" height="11" fill="#000"/>
<rect x="718" y="175" width="5" height="3" fill="#000"/>
<rect x="719" y="176" width="3" height="1" fill="#fff"/>
<rect x="728" y="169" width="1" height="24" fill="#000"/>
<rect x="726" y="175" width="5" height="9" fill="#000"/>
<rect x="736" y="176" width="1" height="14" fill="#000"/>
<rect x="734" y="179" width="5" height="5" fill="#000"/>
<rect x="735" y="180" width="3" height="3" fill="#fff"/>
<rect x="744" y="176" width="1" height="6" fill="#000"/>
<rect x="742" y="179" width="5" height="3" fill="#000"/>
<rect x="743" y="180" width="3" height="1" fill="#fff"/>
<rect x="752" y="177" width="1" height="9" fill="#000"/>
<rect x="750" y="178" width="5" height="6" fill="#000"/>
<rect x="760" y="180" width="1" height="7" fill="#000"/>
<rect x="758" y="183" width="5" height="2" fill="#000"/>
<rect x="768" y="182" width="1" height="3" fill="#000"/>
<rect x="766" y="183" width="5" height="2" fill="#000"/>
<rect x="776" y="169" width="1" height="16" fill="#000"/>
<rect x="774" y="176" width="5" height="8" fill="#000"/>
<rect x="775" y="177" width="3" height="6" fill="#fff"/>
<rect x="784" y="173" width="1" height="10" fill="#000"/>
<rect x="782" y="176" width="5" height="7" fill="#000"/>
<rect x="792" y="179" width="1" height="3" fill="#000"/>
<rect x="790" y="181" width="5" height="1" fill="#000"/>
<rect x="800" y="180" width="1" height="32" fill="#000"/>
<rect x="798" y="180" width="5" height="28" fill="#000"/>
<rect x="808" y="206" width="1" height="20" fill="#000"/>
<rect x="806" y="207" width="5" height="13" fill="#000"/>
<rect x="816" y="214" width="1" height="6" fill="#000"/>
<rect x="814" y="214" width="5" height="3" fill="#000"/>
<rect x="815" y="215" width="3" height="1" fill="#fff"/>
<rect x="824" y="207" width="1" height="31" fill="#000"/>
<rect x="822" y="214" width="5" height="9" fill="#000"/>
<rect x="832" y="221" width="1" height="35" fill="#000"/>
<rect x="830" y="222" width="5" height="26" fill="#000"/>
<rect x="840" y="248" width="1" height="11" fill="#000"/>
<rect x="838" y="249" width="5" height="8" fill="#000"/>
<rect x="839" y="250" width="3" height="6" fill="#fff"/>
<rect x="848" y="224" width="1" height="28" fill="#000"/>
<rect x="846" y="228" width="5" height="22" fill="#000"/>
<rect x="847" y="229" width="3" height="20" fill="#fff"/>
<rect x="856" y="218" width="1" height="38" fill="#000"/>
<rect x="854" y="228" width="5" height="20" fill="#000"/>
<rect x="864" y="190" width="1" height="74" fill="#000"/>
<rect x="862" y="199" width="5" height="48" fill="#000"/>
<rect x="863" y="200" width="3" height="46" fill="#fff"/>
<rect x="872" y="174" width="1" height="26" fill="#000"/>
<rect x="870" y="178" width="5" height="22" fill="#000"/>
<rect x="871" y="179" width="3" height="20" fill="#fff"/>
<rect x="880" y="169" width="1" height="13" fill="#000"/>
<rect x="878" y="177" width="5" height="2" fill="#000"/>
<rect x="888" y="173" width="1" height="4" fill="#000"/>
<rect x="886" y="175" width="5" height="2" fill="#000"/>
<rect x="896" y="153" width="1" height="24" fill="#000"/>
<rect x="894" y="154" width="5" height="22" fill="#000"/>
<rect x="895" y="155" width="3" height="20" fill="#fff"/>
<rect x="904" y="145" width="1" height="19" fill="#000"/>
<rect x="902" y="154" width="5" height="8" fill="#000"/>
<rect x="912" y="154" width="1" height="11" fill="#000"/>
<rect x="910" y="160" width="5" height="2" fill="#000"/>
<rect x="920" y="143" width="1" height="18" fill="#000"/>
<rect x="918" y="146" width="5" height="15" fill="#000"/>
<rect x="919" y="147" width="3" height="13" fill="#fff"/>
<rect x="928" y="141" width="1" height="12" fill="#000"/>
<rect x="926" y="146" width="5" height="2" fill="#000"/>
<rect x="936" y="145" width="1" height="4" fill="#000"/>
<rect x="934" y="146" width="5" height="3" fill="#000"/>
<rect x="935" y="147" width="3" height="1" fill="#fff"/>
<rect x="944" y="144" width="1" height="6" fill="#000"/>
<rect x="942" y="146" width="5" height="1" fill="#000"/>
<rect x="952" y="144" width="1" height="22" fill="#000"/>
<rect x="950" y="146" width="5" height="13" fill="#000"/>
<rect x="960" y="150" width="1" height="21" fill="#000"/>
<rect x="958" y="158" width="5" height="10" fill="#000"/>
<rect x="968" y="165" width="1" height="24" fill="#000"/>
<rect x="966" y="167" width="5" height="8" fill="#000"/>
<rect x="976" y="170" width="1" height="24" fill="#000"/>
<rect x="974" y="174" width="5" height="16" fill="#000"/>
<rect x="984" y="203" width="1" height="11" fill="#000"/>
<rect x="982" y="205" width="5" height="6" fill="#000"/>
<rect x="992" y="194" width="1" height="16" fill="#000"/>
<rect x="990" y="204" width="5" height="6" fill="#000"/>
<rect x="991" y="205" width="3" height="4" fill="#fff"/>
<rect x="1000" y="190" width="1" height="23" fill="#000"/>
<rect x="998" y="194" width="5" height="10" fill="#000"/>
<rect x="999" y="195" width="3" height="8" fill="#fff"/>
<rect x="1008" y="189" width="1" height="15" fill="#000"/>
<rect x="1006" y="195" width="5" height="7" fill="#000"/>
<rect x="1016" y="199" width="1" height="22" fill="#000"/>
<rect x="1014" y="201" width="5" height="6" fill="#000"/>
<rect x="1024" y="194" width="1" height="40" fill="#000"/>
<rect x="1022" y="205" width="5" height="27" fill="#000"/>
<rect x="1032" y="228" width="1" height="4" fill="#000"/>
<rect x="1030" y="229" width="5" height="3" fill="#000"/>
<rect x="1031" y="230" width="3" height="1" fill="#fff"/>
<rect x="1040" y="210" width="1" height="21" fill="#000"/>
<rect x="1038" y="218" width="5" height="12" fill="#000"/>
<rect x="1039" y="219" width="3" height="10" fill="#fff"/>
<rect x="1048" y="175" width="1" height="48" fill="#000"/>
<rect x="1046" y="180" width="5" height="40" fill="#000"/>
<rect x="1047" y="181" width="3" height="38" fill="#fff"/>
<rect x="1056" y="162" width="1" height="26" fill="#000"/>
<rect x="1054" y="163" width="5" height="18" fill="#000"/>
<rect x="1055" y="164" width="3" height="16" fill="#fff"/>
<rect x="1064" y="154" width="1" height="11" fill="#000"/>
<rect x="1062" y="156" width="5" height="8" fill="#000"/>
<rect x="1063" y="157" width="3" height="6" fill="#fff"/>
<rect x="1072" y="155" width="1" height="22" fill="#000"/>
<rect x="1070" y="156" width="5" height="12" fill="#000"/>
<rect x="1080" y="165" width="1" height="11" fill="#000"/>
<rect x="1078" y="168" width="5" height="5" fill="#000"/>
<rect x="1088" y="160" width="1" height="14" fill="#000"/>
<rect x="1086" y="166" width="5" height="6" fill="#000"/>
<rect x="1087" y="167" width="3" height="4" fill="#fff"/>
<rect x="1096" y="156" width="1" height="12" fill="#000"/>
<rect x="1094" y="163" width="5" height="3" fill="#000"/>
<rect x="1095" y="164" width="3" height="1" fill="#fff"/>
<rect x="1104" y="148" width="1" height="17" fill="#000"/>
<rect x="1102" y="161" width="5" height="3" fill="#000"/>
<rect x="1103" y="162" width="3" height="1" fill="#fff"/>
<rect x="1112" y="155" width="1" height="18" fill="#000"/>
<rect x="1110" y="161" width="5" height="5" fill="#000"/>
<rect x="1120" y="158" width="1" height="11" fill="#000"/>
<rect x="1118" y="165" width="5" height="1" fill="#000"/>
<rect x="1128" y="162" width="1" height="4" fill="#000"/>
<rect x="1126" y="164" width="5" height="2" fill="#000"/>
<rect x="1136" y="156" width="1" height="12" fill="#000"/>
<rect x="1134" y="163" width="5" height="3" fill="#000"/>
<rect x="1135" y="164" width="3" height="1" fill="#fff"/>
<rect x="1144" y="157" width="1" height="14" fill="#000"/>
<rect x="1142" y="159" width="5" height="4" fill="#000"/>
<rect x="1143" y="160" width="3" height="2" fill="#fff"/>
<rect x="1152" y="81" width="1" height="81" fill="#000"/>
<rect x="1150" y="99" width="5" height="60" fill="#000"/>
<rect x="1151" y="100" width="3" height="58" fill="#fff"/>
<rect x="1160" y="51" width="1" height="53" fill="#000"/>
<rect x="1158" y="63" width="5" height="36" fill="#000"/>
<rect x="1159" y="64" width="3" height="34" fill="#fff"/>
<rect x="1168" y="53" width="1" height="30" fill="#000"/>
<rect x="1166" y="62" width="5" height="19" fill="#000"/>
<rect x="1176" y="80" width="1" height="11" fill="#000"/>
<rect x="1174" y="83" width="5" height="6" fill="#000"/>
<rect x="1175" y="84" width="3" height="4" fill="#fff"/>
<rect x="1184" y="76" width="1" height="64" fill="#000"/>
<rect x="1182" y="82" width="5" height="34" fill="#000"/>
<rect x="1192" y="106" width="1" height="54" fill="#000"/>
<rect x="1190" y="115" width="5" height="27" fill="#000"/>
<rect x="1200" y="122" width="1" height="27" fill="#000"/>
<rect x="1198" y="137" width="5" height="4" fill="#000"/>
<rect x="1199" y="138" width="3" height="2" fill="#fff"/>
<rect x="1208" y="136" width="1" height="44" fill="#000"/>
<rect x="1206" y="137" width="5" height="36" fill="#000"/>
<rect x="1216" y="170" width="1" height="89" fill="#000"/>
<rect x="1214" y="171" width="5" height="84" fill="#000"/>
<rect x="1224" y="258" width="1" height="20" fill="#000"/>
<rect x="1222" y="262" width="5" height="15" fill="#000"/>
<rect x="1223" y="263" width="3" height="13" fill="#fff"/>
<rect x="1232" y="220" width="1" height="56" fill="#000"/>
<rect x="1230" y="223" width="5" height="37" fill="#000"/>
<rect x="1231" y="224" width="3" height="35" fill="#fff"/>
<rect x="1240" y="224" width="1" height="77" fill="#000"/>
<rect x="1238" y="225" width="5" height="66" fill="#000"/>
<rect x="1248" y="259" width="1" height="34" fill="#000"/>
<rect x="1246" y="260" width="5" height="31" fill="#000"/>
<rect x="1247" y="261" width="3" height="29" fill="#fff"/>
<rect x="1256" y="262" width="1" height="80" fill="#000"/>
<rect x="1254" y="264" width="5" height="65" fill="#000"/>
<rect x="1264" y="324" width="1" height="64" fill="#000"/>
<rect x="1262" y="328" width="5" height="50" fill="#000"/>
<rect x="1272" y="421" width="1" height="25" fill="#000"/>
<rect x="1270" y="436" width="5" height="10" fill="#000"/>
<rect x="1271" y="437" width="3" height="8" fill="#fff"/>
<rect x="1280" y="420" width="1" height="140" fill="#000"/>
<rect x="1278" y="434" width="5" height="42" fill="#000"/>
<rect x="1288" y="344" width="1" height="150" fill="#000"/>
<rect x="1286" y="384" width="5" height="91" fill="#000"/>
<rect x="1287" y="385" width="3" height="89" fill="#fff"/>
<rect x="1296" y="371" width="1" height="58" fill="#000"/>
<rect x="1294" y="386" width="5" height="23" fill="#000"/>
<rect x="1304" y="335" width="1" height="141" fill="#000"/>
<rect x="1302" y="403" width="5" height="3" fill="#000"/>
<rect x="1303" y="404" width="3" height="1" fill="#fff"/>
<rect x="1312" y="238" width="1" height="163" fill="#000"/>
<rect x="1310" y="241" width="5" height="160" fill="#000"/>
<rect x="1311" y="242" width="3" height="158" fill="#fff"/>
<rect x="1320" y="301" width="1" height="53" fill="#000"/>
<rect x="1318" y="318" width="5" height="5" fill="#000"/>
<rect x="1319" y="319" width="3" height="3" fill="#fff"/>
<rect x="1328" y="267" width="1" height="113" fill="#000"/>
<rect x="1326" y="317" width="5" height="14" fill="#000"/>
<rect x="1336" y="253" width="1" height="83" fill="#000"/>
<rect x="1334" y="276" width="5" height="55" fill="#000"/>
<rect x="1335" y="277" width="3" height="53" fill="#fff"/>
<rect x="1344" y="217" width="1" height="89" fill="#000"/>
<rect x="1342" y="230" width="5" height="48" fill="#000"/>
<rect x="1343" y="231" width="3" height="46" fill="#fff"/>
<rect x="1352" y="91" width="1" height="148" fill="#000"/>
<rect x="1350" y="94" width="5" height="138" fill="#000"/>
<rect x="1351" y="95" width="3" height="136" fill="#fff"/>
<rect x="1360" y="84" width="1" height="103" fill="#000"/>
<rect x="1358" y="93" width="5" height="8" fill="#000"/>
<rect x="1368" y="104" width="1" height="38" fill="#000"/>
<rect x="1366" y="105" width="5" height="33" fill="#000"/>
<rect x="1376" y="80" width="1" height="91" fill="#000"/>
<rect x="1374" y="117" width="5" height="19" fill="#000"/>
<rect x="1375" y="118" width="3" height="17" fill="#fff"/>
<rect x="1384" y="75" width="1" height="76" fill="#000"/>
<rect x="1382" y="102" width="5" height="16" fill="#000"/>
<rect x="1383" y="103" width="3" height="14" fill="#fff"/>
<rect x="1392" y="89" width="1" height="32" fill="#000"/>
<rect x="1390" y="100" width="5" height="4" fill="#000"/>
<rect x="1391" y="101" width="3" height="2" fill="#fff"/>
</g>
<g stroke="#ff0000" stroke-width="3.2" stroke-linecap="butt" fill="#ff0000" shape-rendering="crispEdges">
<line x1="1160.6" y1="60" x2="1281.5" y2="562"/>
<line x1="1282.6" y1="562" x2="1401.6" y2="40"/>
</g>
<polygon points="1282.3,566 1274.8,556 1280,556.5 1287.5,555.5" fill="#ff0000"/>
<polygon points="1402.6,35.5 1395.6,45.5 1400,44.5 1405.6,46.5" fill="#ff0000"/>
<rect x="1325" y="124" width="93" height="9" fill="#00ff00" shape-rendering="crispEdges"/>
<polygon points="1402,25 1411,25 1406.5,30" fill="#b0b0b0"/>
<rect x="1457" y="125" width="10" height="1" fill="#ff0000"/>
<rect x="1467.5" y="113.5" width="73" height="24" fill="#fff" stroke="#ff0000" stroke-width="1"/>
<text x="1469.3" y="134.3" font-size="23.2" fill="#ff0000" textLength="70.5" lengthAdjust="spacingAndGlyphs">110.618</text>
<text x="1376" y="196" font-size="32" font-weight="bold" font-family="&quot;Liberation Serif&quot;, &quot;Noto Serif CJK SC&quot;, serif" fill="#101830" textLength="160" lengthAdjust="spacingAndGlyphs" transform="translate(1.2,1.2)">多空转折点</text>
<text x="1376" y="196" font-size="32" font-weight="bold" font-family="&quot;Liberation Serif&quot;, &quot;Noto Serif CJK SC&quot;, serif" fill="#00ff00" textLength="160" lengthAdjust="spacingAndGlyphs">多空转折点</text>
<g shape-rendering="crispEdges">
<rect x="0" y="639" width="1" height="13" fill="#c0c0c0"/>
<rect x="8" y="639" width="1" height="7" fill="#c0c0c0"/>
<rect x="16" y="639" width="1" height="3" fill="#c0c0c0"/>
<rect x="24" y="639" width="1" height="1" fill="#c0c0c0"/>
<rect x="32" y="634" width="1" height="5" fill="#c0c0c0"/>
<rect x="40" y="629" width="1" height="10" fill="#c0c0c0"/>
<rect x="48" y="623" width="1" height="16" fill="#c0c0c0"/>
<rect x="56" y="617" width="1" height="22" fill="#c0c0c0"/>
<rect x="64" y="614" width="1" height="25" fill="#c0c0c0"/>
<rect x="72" y="612" width="1" height="27" fill="#c0c0c0"/>
<rect x="80" y="610" width="1" height="29" fill="#c0c0c0"/>
<rect x="88" y="609" width="1" height="30" fill="#c0c0c0"/>
<rect x="96" y="606" width="1" height="33" fill="#c0c0c0"/>
<rect x="104" y="607" width="1" height="32" fill="#c0c0c0"/>
<rect x="112" y="610" width="1" height="29" fill="#c0c0c0"/>
<rect x="120" y="612" width="1" height="27" fill="#c0c0c0"/>
<rect x="128" y="615" width="1" height="24" fill="#c0c0c0"/>
<rect x="136" y="620" width="1" height="19" fill="#c0c0c0"/>
<rect x="144" y="621" width="1" height="18" fill="#c0c0c0"/>
<rect x="152" y="622" width="1" height="17" fill="#c0c0c0"/>
<rect x="160" y="622" width="1" height="17" fill="#c0c0c0"/>
<rect x="168" y="622" width="1" height="17" fill="#c0c0c0"/>
<rect x="176" y="621" width="1" height="18" fill="#c0c0c0"/>
<rect x="184" y="623" width="1" height="16" fill="#c0c0c0"/>
<rect x="192" y="628" width="1" height="11" fill="#c0c0c0"/>
<rect x="200" y="633" width="1" height="6" fill="#c0c0c0"/>
<rect x="208" y="637" width="1" height="2" fill="#c0c0c0"/>
<rect x="216" y="639" width="1" height="1" fill="#c0c0c0"/>
<rect x="224" y="639" width="1" height="1" fill="#c0c0c0"/>
<rect x="232" y="639" width="1" height="4" fill="#c0c0c0"/>
<rect x="240" y="639" width="1" height="4" fill="#c0c0c0"/>
<rect x="248" y="639" width="1" height="1" fill="#c0c0c0"/>
<rect x="256" y="633" width="1" height="6" fill="#c0c0c0"/>
<rect x="264" y="629" width="1" height="10" fill="#c0c0c0"/>
<rect x="272" y="625" width="1" height="14" fill="#c0c0c0"/>
<rect x="280" y="621" width="1" height="18" fill="#c0c0c0"/>
<rect x="288" y="618" width="1" height="21" fill="#c0c0c0"/>
<rect x="296" y="617" width="1" height="22" fill="#c0c0c0"/>
<rect x="304" y="617" width="1" height="22" fill="#c0c0c0"/>
<rect x="312" y="617" width="1" height="22" fill="#c0c0c0"/>
<rect x="320" y="617" width="1" height="22" fill="#c0c0c0"/>
<rect x="328" y="617" width="1" height="22" fill="#c0c0c0"/>
<rect x="336" y="617" width="1" height="22" fill="#c0c0c0"/>
<rect x="344" y="616" width="1" height="23" fill="#c0c0c0"/>
<rect x="352" y="616" width="1" height="23" fill="#c0c0c0"/>
<rect x="360" y="616" width="1" height="23" fill="#c0c0c0"/>
<rect x="368" y="616" width="1" height="23" fill="#c0c0c0"/>
<rect x="376" y="616" width="1" height="23" fill="#c0c0c0"/>
<rect x="384" y="616" width="1" height="23" fill="#c0c0c0"/>
<rect x="392" y="622" width="1" height="17" fill="#c0c0c0"/>
<rect x="400" y="625" width="1" height="14" fill="#c0c0c0"/>
<rect x="408" y="628" width="1" height="11" fill="#c0c0c0"/>
<rect x="416" y="627" width="1" height="12" fill="#c0c0c0"/>
<rect x="424" y="625" width="1" height="14" fill="#c0c0c0"/>
<rect x="432" y="624" width="1" height="15" fill="#c0c0c0"/>
<rect x="440" y="622" width="1" height="17" fill="#c0c0c0"/>
<rect x="448" y="621" width="1" height="18" fill="#c0c0c0"/>
<rect x="456" y="620" width="1" height="19" fill="#c0c0c0"/>
<rect x="464" y="620" width="1" height="19" fill="#c0c0c0"/>
<rect x="472" y="622" width="1" height="17" fill="#c0c0c0"/>
<rect x="480" y="623" width="1" height="16" fill="#c0c0c0"/>
<rect x="488" y="626" width="1" height="13" fill="#c0c0c0"/>
<rect x="496" y="627" width="1" height="12" fill="#c0c0c0"/>
<rect x="504" y="629" width="1" height="10" fill="#c0c0c0"/>
<rect x="512" y="631" width="1" height="8" fill="#c0c0c0"/>
<rect x="520" y="633" width="1" height="6" fill="#c0c0c0"/>
<rect x="528" y="635" width="1" height="4" fill="#c0c0c0"/>
<rect x="536" y="636" width="1" height="3" fill="#c0c0c0"/>
<rect x="544" y="637" width="1" height="2" fill="#c0c0c0"/>
<rect x="552" y="637" width="1" height="2" fill="#c0c0c0"/>
<rect x="560" y="634" width="1" height="5" fill="#c0c0c0"/>
<rect x="568" y="633" width="1" height="6" fill="#c0c0c0"/>
<rect x="576" y="630" width="1" height="9" fill="#c0c0c0"/>
<rect x="584" y="628" width="1" height="11" fill="#c0c0c0"/>
<rect x="592" y="626" width="1" height="13" fill="#c0c0c0"/>
<rect x="600" y="624" width="1" height="15" fill="#c0c0c0"/>
<rect x="608" y="626" width="1" height="13" fill="#c0c0c0"/>
<rect x="616" y="629" width="1" height="10" fill="#c0c0c0"/>
<rect x="624" y="631" width="1" height="8" fill="#c0c0c0"/>
<rect x="632" y="633" width="1" height="6" fill="#c0c0c0"/>
<rect x="640" y="636" width="1" height="3" fill="#c0c0c0"/>
<rect x="648" y="638" width="1" height="1" fill="#c0c0c0"/>
<rect x="656" y="638" width="1" height="1" fill="#c0c0c0"/>
<rect x="664" y="639" width="1" height="1" fill="#c0c0c0"/>
<rect x="672" y="639" width="1" height="1" fill="#c0c0c0"/>
<rect x="680" y="637" width="1" height="2" fill="#c0c0c0"/>
<rect x="688" y="635" width="1" height="4" fill="#c0c0c0"/>
<rect x="696" y="633" width="1" height="6" fill="#c0c0c0"/>
<rect x="704" y="630" width="1" height="9" fill="#c0c0c0"/>
<rect x="712" y="629" width="1" height="10" fill="#c0c0c0"/>
<rect x="720" y="627" width="1" height="12" fill="#c0c0c0"/>
<rect x="728" y="627" width="1" height="12" fill="#c0c0c0"/>
<rect x="736" y="627" width="1" height="12" fill="#c0c0c0"/>
<rect x="744" y="627" width="1" height="12" fill="#c0c0c0"/>
<rect x="752" y="627" width="1" height="12" fill="#c0c0c0"/>
<rect x="760" y="628" width="1" height="11" fill="#c0c0c0"/>
<rect x="768" y="628" width="1" height="11" fill="#c0c0c0"/>
<rect x="776" y="628" width="1" height="11" fill="#c0c0c0"/>
<rect x="784" y="628" width="1" height="11" fill="#c0c0c0"/>
<rect x="792" y="629" width="1" height="10" fill="#c0c0c0"/>
<rect x="800" y="633" width="1" height="6" fill="#c0c0c0"/>
<rect x="808" y="637" width="1" height="2" fill="#c0c0c0"/>
<rect x="816" y="639" width="1" height="1" fill="#c0c0c0"/>
<rect x="824" y="639" width="1" height="3" fill="#c0c0c0"/>
<rect x="832" y="639" width="1" height="9" fill="#c0c0c0"/>
<rect x="840" y="639" width="1" height="13" fill="#c0c0c0"/>
<rect x="848" y="639" width="1" height="14" fill="#c0c0c0"/>
<rect x="856" y="639" width="1" height="17" fill="#c0c0c0"/>
<rect x="864" y="639" width="1" height="13" fill="#c0c0c0"/>
<rect x="872" y="639" width="1" height="7" fill="#c0c0c0"/>
<rect x="880" y="639" width="1" height="1" fill="#c0c0c0"/>
<rect x="888" y="639" width="1" height="1" fill="#c0c0c0"/>
<rect x="896" y="633" width="1" height="6" fill="#c0c0c0"/>
<rect x="904" y="630" width="1" height="9" fill="#c0c0c0"/>
<rect x="912" y="627" width="1" height="12" fill="#c0c0c0"/>
<rect x="920" y="623" width="1" height="16" fill="#c0c0c0"/>
<rect x="928" y="621" width="1" height="18" fill="#c0c0c0"/>
<rect x="936" y="619" width="1" height="20" fill="#c0c0c0"/>
<rect x="944" y="618" width="1" height="21" fill="#c0c0c0"/>
<rect x="952" y="618" width="1" height="21" fill="#c0c0c0"/>
<rect x="960" y="621" width="1" height="18" fill="#c0c0c0"/>
<rect x="968" y="623" width="1" height="16" fill="#c0c0c0"/>
<rect x="976" y="627" width="1" height="12" fill="#c0c0c0"/>
<rect x="984" y="632" width="1" height="7" fill="#c0c0c0"/>
<rect x="992" y="636" width="1" height="3" fill="#c0c0c0"/>
<rect x="1000" y="638" width="1" height="1" fill="#c0c0c0"/>
<rect x="1008" y="639" width="1" height="1" fill="#c0c0c0"/>
<rect x="1016" y="639" width="1" height="2" fill="#c0c0c0"/>
<rect x="1024" y="639" width="1" height="7" fill="#c0c0c0"/>
<rect x="1032" y="639" width="1" height="10" fill="#c0c0c0"/>
<rect x="1040" y="639" width="1" height="13" fill="#c0c0c0"/>
<rect x="1048" y="639" width="1" height="9" fill="#c0c0c0"/>
<rect x="1056" y="639" width="1" height="4" fill="#c0c0c0"/>
<rect x="1064" y="639" width="1" height="1" fill="#c0c0c0"/>
<rect x="1072" y="636" width="1" height="3" fill="#c0c0c0"/>
<rect x="1080" y="635" width="1" height="4" fill="#c0c0c0"/>
<rect x="1088" y="633" width="1" height="6" fill="#c0c0c0"/>
<rect x="1096" y="632" width="1" height="7" fill="#c0c0c0"/>
<rect x="1104" y="630" width="1" height="9" fill="#c0c0c0"/>
<rect x="1112" y="630" width="1" height="9" fill="#c0c0c0"/>
<rect x="1120" y="629" width="1" height="10" fill="#c0c0c0"/>
<rect x="1128" y="629" width="1" height="10" fill="#c0c0c0"/>
<rect x="1136" y="629" width="1" height="10" fill="#c0c0c0"/>
<rect x="1144" y="628" width="1" height="11" fill="#c0c0c0"/>
<rect x="1152" y="621" width="1" height="18" fill="#c0c0c0"/>
<rect x="1160" y="611" width="1" height="28" fill="#c0c0c0"/>
<rect x="1168" y="606" width="1" height="33" fill="#c0c0c0"/>
<rect x="1176" y="602" width="1" height="37" fill="#c0c0c0"/>
<rect x="1184" y="604" width="1" height="35" fill="#c0c0c0"/>
<rect x="1192" y="608" width="1" height="31" fill="#c0c0c0"/>
<rect x="1200" y="612" width="1" height="27" fill="#c0c0c0"/>
<rect x="1208" y="619" width="1" height="20" fill="#c0c0c0"/>
<rect x="1216" y="635" width="1" height="4" fill="#c0c0c0"/>
<rect x="1224" y="639" width="1" height="8" fill="#c0c0c0"/>
<rect x="1232" y="639" width="1" height="14" fill="#c0c0c0"/>
<rect x="1240" y="639" width="1" height="26" fill="#c0c0c0"/>
<rect x="1248" y="639" width="1" height="32" fill="#c0c0c0"/>
<rect x="1256" y="639" width="1" height="45" fill="#c0c0c0"/>
<rect x="1264" y="639" width="1" height="60" fill="#c0c0c0"/>
<rect x="1272" y="639" width="1" height="78" fill="#c0c0c0"/>
<rect x="1280" y="639" width="1" height="96" fill="#c0c0c0"/>
<rect x="1288" y="639" width="1" height="98" fill="#c0c0c0"/>
<rect x="1296" y="639" width="1" height="101" fill="#c0c0c0"/>
<rect x="1304" y="639" width="1" height="102" fill="#c0c0c0"/>
<rect x="1312" y="639" width="1" height="82" fill="#c0c0c0"/>
<rect x="1320" y="639" width="1" height="75" fill="#c0c0c0"/>
<rect x="1328" y="639" width="1" height="70" fill="#c0c0c0"/>
<rect x="1336" y="639" width="1" height="58" fill="#c0c0c0"/>
<rect x="1344" y="639" width="1" height="43" fill="#c0c0c0"/>
<rect x="1352" y="639" width="1" height="15" fill="#c0c0c0"/>
<rect x="1360" y="633" width="1" height="6" fill="#c0c0c0"/>
<rect x="1368" y="620" width="1" height="19" fill="#c0c0c0"/>
<rect x="1376" y="608" width="1" height="31" fill="#c0c0c0"/>
<rect x="1384" y="598" width="1" height="41" fill="#c0c0c0"/>
<rect x="1392" y="589" width="1" height="50" fill="#c0c0c0"/>
<path d="M120 611h3M126 611h3M132 611h3M138 611h3M114 612h3M144 612h3M1207 612h2M1212 612h1M108 613h3M150 613h1M1206 613h1M1213 613h2M103 614h2M151 614h2M156 614h1M1200 614h3M1218 614h3M102 615h1M157 615h2M162 615h1M1194 615h3M98 616h1M163 616h2M373 616h2M378 616h3M384 616h3M1189 616h2M1224 616h1M96 617h2M168 617h3M342 617h3M348 617h3M354 617h3M360 617h3M366 617h3M372 617h1M390 617h3M396 617h1M1188 617h1M1225 617h2M174 618h3M336 618h3M397 618h2M402 618h3M1183 618h2M92 619h1M180 619h3M331 619h2M408 619h3M1182 619h1M90 620h2M186 620h1M330 620h1M414 620h3M420 620h1M1178 620h1M1230 620h2M187 621h2M324 621h3M421 621h2M426 621h3M1176 621h2M1232 621h1M85 622h2M192 622h3M319 622h2M432 622h3M486 622h3M492 622h1M966 622h3M972 622h3M978 622h3M984 622h3M84 623h1M198 623h1M318 623h1M438 623h3M444 623h3M450 623h3M462 623h3M468 623h3M474 623h3M480 623h3M493 623h2M498 623h3M504 623h3M960 623h3M990 623h1M1170 623h3M80 624h1M199 624h2M312 624h3M456 624h3M510 624h3M955 624h2M991 624h2M1236 624h1M78 625h2M204 625h3M516 625h3M954 625h1M996 625h3M1165 625h2M1237 625h2M210 626h1M306 626h3M522 626h3M949 626h2M1002 626h1M1164 626h1M74 627h1M211 627h2M528 627h3M948 627h1M1003 627h2M1159 627h2M72 628h2M216 628h3M301 628h2M534 628h1M757 628h2M762 628h3M768 628h3M774 628h3M780 628h3M786 628h3M792 628h3M798 628h3M943 628h2M1008 628h3M1158 628h1M222 629h3M300 629h1M535 629h2M624 629h3M630 629h3M636 629h3M642 629h3M750 629h3M756 629h1M804 629h3M942 629h1M1014 629h1M1152 629h3M1242 629h1M228 630h1M295 630h2M540 630h3M613 630h2M618 630h3M648 630h3M744 630h3M810 630h3M938 630h1M1015 630h2M1147 630h2M1243 630h1M67 631h2M229 631h2M294 631h1M546 631h3M606 631h3M612 631h1M654 631h3M739 631h2M816 631h3M936 631h2M1141 631h2M1146 631h1M1244 631h1M66 632h1M234 632h1M288 632h3M552 632h3M600 632h3M660 632h3M733 632h2M738 632h1M822 632h3M1020 632h2M1134 632h3M1140 632h1M235 633h2M558 633h3M564 633h1M589 633h2M594 633h3M666 633h3M726 633h3M732 633h1M828 633h1M932 633h1M1022 633h1M1128 633h3M62 634h1M240 634h3M282 634h3M565 634h2M570 634h3M576 634h3M582 634h3M588 634h1M672 634h3M720 634h3M829 634h2M930 634h2M1122 634h3M60 635h2M246 635h1M277 635h2M678 635h3M684 635h1M709 635h2M714 635h3M834 635h1M1026 635h3M1116 635h3M1248 635h1M247 636h2M252 636h1M270 636h3M276 636h1M685 636h2M690 636h3M696 636h3M702 636h3M708 636h1M835 636h2M925 636h2M1111 636h2M1249 636h1M56 637h1M253 637h2M258 637h3M264 637h3M840 637h2M924 637h1M1032 637h2M1110 637h1M1250 637h1M54 638h2M842 638h1M920 638h1M1034 638h1M1106 638h1M846 639h1M918 639h2M1038 639h1M1104 639h2M50 640h1M847 640h2M1039 640h2M1099 640h2M48 641h2M852 641h1M914 641h1M1044 641h3M1093 641h2M1098 641h1M1253 641h1M853 642h2M912 642h2M1050 642h3M1086 642h3M1092 642h1M1254 642h1M44 643h1M907 643h2M1056 643h3M1069 643h2M1074 643h3M1080 643h3M1255 643h1M42 644h2M858 644h3M906 644h1M1062 644h3M1068 644h1M900 645h3M37 646h2M864 646h3M894 646h3M1390 646h1M36 647h1M870 647h3M876 647h3M882 647h3M888 647h3M1258 647h1M1390 647h1M31 648h2M1259 648h1M1389 648h1M30 649h1M1260 649h1M26 650h1M24 651h2M1387 652h1M20 653h1M1263 653h1M1386 653h1M18 654h2M1264 654h1M1386 654h1M1265 655h1M13 656h2M12 657h1M7 658h2M1383 658h1M6 659h1M1268 659h1M1383 659h1M0 660h3M1268 660h1M1382 660h1M1269 661h1M1380 664h1M1272 665h1M1379 665h1M1273 666h1M1379 666h1M1273 667h1M1377 670h1M1276 671h1M1376 671h1M1276 672h1M1375 672h1M1277 673h1M1373 676h1M1279 677h1M1373 677h1M1280 678h1M1372 678h1M1281 679h1M1370 682h1M1284 683h1M1370 683h1M1284 684h1M1369 684h1M1285 685h1M1367 688h1M1288 689h1M1366 689h1M1289 690h1M1366 690h1M1289 691h1M1363 694h1M1292 695h1M1362 695h1M1293 696h1M1362 696h1M1294 697h1M1359 700h1M1297 701h1M1359 701h1M1298 702h1M1358 702h1M1298 703h1M1355 706h1M1302 707h1M1354 707h1M1302 708h1M1353 708h1M1303 709h1M1307 712h1M1350 712h1M1308 713h1M1349 713h1M1309 714h1M1348 714h1M1313 717h2M1315 718h1M1345 718h1M1344 719h1M1319 720h1M1343 720h1M1320 721h2M1325 722h2M1338 722h2M1327 723h1M1331 723h3M1337 723h1" stroke="#ff0000" stroke-width="1" fill="none" transform="translate(0,0.5)"/>
</g>
<g shape-rendering="crispEdges">
<line x1="0" y1="787.5" x2="1601" y2="787.5" stroke="#c0c0c0" stroke-width="1" stroke-dasharray="3 3"/>
<line x1="0" y1="838.5" x2="1601" y2="838.5" stroke="#c0c0c0" stroke-width="1" stroke-dasharray="3 3"/>
<line x1="0" y1="899.5" x2="1601" y2="899.5" stroke="#c0c0c0" stroke-width="1" stroke-dasharray="3 3"/>
<path d="M1160 788h1M1159 789h1M1161 789h1M1158 790h1M1161 790h1M1158 791h1M1162 791h1M1157 792h1M1162 792h1M1156 793h1M1163 793h1M1155 794h1M1164 794h1M1154 795h1M1164 795h1M1154 796h1M1165 796h1M1153 797h1M1166 797h1M1152 798h1M1166 798h1M1152 799h1M1167 799h1M1151 800h1M1167 800h1M1151 801h1M1168 801h3M1151 802h1M1171 802h4M1150 803h1M1175 803h2M1150 804h1M1176 804h1M1150 805h1M1177 805h1M1149 806h1M1177 806h1M1149 807h1M1178 807h1M1149 808h1M1178 808h1M1148 809h1M1178 809h1M1148 810h1M1179 810h1M584 811h3M1148 811h1M1179 811h1M55 812h6M582 812h2M587 812h4M1148 812h1M1180 812h1M53 813h2M61 813h4M96 813h1M280 813h2M368 813h2M580 813h2M591 813h10M920 813h2M1147 813h1M1180 813h1M50 814h3M65 814h1M94 814h2M97 814h1M279 814h1M282 814h3M366 814h2M370 814h2M578 814h2M600 814h1M919 814h1M922 814h3M935 814h6M1147 814h1M1180 814h1M48 815h2M66 815h1M93 815h1M98 815h1M278 815h1M285 815h2M365 815h1M372 815h2M576 815h2M601 815h1M918 815h1M925 815h2M931 815h4M941 815h4M1147 815h1M1181 815h1M47 816h1M66 816h1M80 816h3M91 816h2M98 816h1M277 816h1M287 816h3M363 816h2M374 816h2M575 816h1M601 816h1M896 816h1M917 816h1M927 816h4M945 816h1M1146 816h1M1181 816h1M1352 816h3M45 817h2M67 817h1M79 817h1M83 817h4M89 817h2M99 817h1M256 817h5M276 817h1M290 817h3M361 817h2M376 817h2M574 817h1M601 817h1M895 817h1M897 817h2M915 817h2M946 817h1M1146 817h1M1182 817h1M1351 817h1M1355 817h4M44 818h1M68 818h1M78 818h1M87 818h2M100 818h1M255 818h1M261 818h5M275 818h1M293 818h2M357 818h4M378 818h2M424 818h1M440 818h2M573 818h1M602 818h1M704 818h2M894 818h1M899 818h2M914 818h1M946 818h1M1146 818h1M1182 818h1M1351 818h1M1359 818h2M43 819h1M69 819h1M77 819h1M101 819h1M255 819h1M266 819h3M274 819h1M295 819h3M351 819h6M380 819h2M423 819h1M425 819h1M439 819h1M442 819h3M572 819h1M602 819h1M702 819h2M706 819h3M893 819h1M901 819h1M913 819h1M947 819h1M1145 819h1M1182 819h1M1350 819h1M1361 819h1M1389 819h4M41 820h2M70 820h1M75 820h2M102 820h1M254 820h1M269 820h2M273 820h1M298 820h2M320 820h2M347 820h4M382 820h2M422 820h1M426 820h1M438 820h1M445 820h2M571 820h1M603 820h1M701 820h1M709 820h2M892 820h1M902 820h2M909 820h4M948 820h1M1145 820h1M1183 820h1M1350 820h1M1362 820h1M1383 820h6M39 821h2M70 821h1M74 821h1M102 821h1M253 821h1M271 821h2M300 821h2M318 821h2M322 821h2M341 821h6M384 821h1M422 821h1M427 821h2M437 821h1M447 821h11M570 821h1M603 821h1M699 821h2M711 821h10M891 821h1M904 821h5M949 821h1M1145 821h1M1183 821h1M1349 821h1M1363 821h2M1379 821h4M37 822h2M71 822h1M73 822h1M103 822h1M252 822h1M302 822h2M317 822h1M324 822h2M335 822h6M384 822h1M421 822h1M429 822h1M435 822h2M458 822h2M569 822h1M603 822h1M697 822h2M721 822h2M890 822h1M950 822h1M1061 822h4M1144 822h1M1184 822h1M1349 822h1M1365 822h1M1375 822h4M34 823h3M72 823h1M104 823h1M252 823h1M304 823h3M315 823h2M326 823h2M331 823h4M385 823h1M420 823h1M430 823h1M434 823h1M460 823h2M567 823h2M604 823h1M680 823h3M695 823h2M723 823h2M889 823h1M950 823h1M1056 823h5M1065 823h2M1143 823h2M1184 823h1M1348 823h1M1366 823h1M1373 823h2M32 824h2M105 824h1M175 824h2M251 824h1M307 824h4M313 824h2M328 824h3M385 824h1M419 824h1M431 824h1M433 824h1M462 824h2M565 824h2M604 824h1M680 824h1M683 824h4M691 824h4M725 824h1M735 824h11M776 824h1M879 824h10M951 824h1M1055 824h1M1067 824h2M1141 824h2M1185 824h1M1348 824h1M1367 824h1M1370 824h3M31 825h1M106 825h1M171 825h4M177 825h1M250 825h1M311 825h2M385 825h1M418 825h1M432 825h1M464 825h3M562 825h3M604 825h1M679 825h1M687 825h4M726 825h2M731 825h4M746 825h2M775 825h1M777 825h2M875 825h4M952 825h1M1054 825h1M1069 825h1M1095 825h11M1138 825h3M1185 825h1M1347 825h1M1368 825h2M29 826h2M107 826h1M168 826h3M178 826h1M249 826h1M385 826h1M418 826h1M467 826h4M560 826h2M605 826h1M679 826h1M728 826h3M748 826h2M773 826h2M779 826h1M872 826h3M953 826h2M1053 826h1M1070 826h2M1091 826h4M1106 826h3M1133 826h5M1186 826h1M1347 826h1M8 827h2M28 827h1M108 827h1M166 827h2M178 827h1M249 827h1M386 827h1M417 827h1M471 827h2M559 827h1M605 827h1M679 827h1M750 827h2M772 827h1M780 827h1M871 827h1M955 827h1M1052 827h1M1072 827h2M1088 827h3M1109 827h2M1125 827h8M1186 827h1M1346 827h1M7 828h1M10 828h2M27 828h1M109 828h1M164 828h2M179 828h1M248 828h1M386 828h1M416 828h1M473 828h1M558 828h1M605 828h1M678 828h1M752 828h2M771 828h1M781 828h2M870 828h1M956 828h1M1051 828h1M1074 828h2M1086 828h2M1111 828h14M1187 828h1M1346 828h1M7 829h1M12 829h2M25 829h2M110 829h1M162 829h2M180 829h1M247 829h1M386 829h1M415 829h1M474 829h1M558 829h1M606 829h1M678 829h1M754 829h3M769 829h2M783 829h1M789 829h4M869 829h1M957 829h2M1050 829h1M1076 829h2M1084 829h2M1188 829h1M1345 829h1M6 830h1M14 830h2M21 830h4M111 830h1M157 830h5M181 830h1M247 830h1M387 830h1M415 830h1M475 830h2M557 830h1M606 830h1M678 830h1M757 830h2M765 830h4M784 830h5M792 830h1M868 830h1M959 830h1M1049 830h1M1078 830h2M1082 830h2M1188 830h1M1345 830h1M5 831h1M16 831h5M112 831h11M149 831h8M182 831h1M246 831h1M387 831h1M414 831h1M477 831h1M556 831h1M607 831h1M677 831h1M759 831h6M793 831h1M868 831h1M960 831h1M1048 831h1M1080 831h2M1189 831h1M1344 831h1M4 832h1M123 832h4M144 832h5M182 832h1M246 832h1M387 832h1M414 832h1M478 832h1M555 832h1M607 832h1M677 832h1M793 832h1M867 832h1M961 832h2M1048 832h1M1190 832h1M1344 832h1M4 833h1M127 833h2M143 833h1M183 833h1M245 833h1M388 833h1M413 833h1M479 833h1M496 833h2M554 833h1M607 833h1M677 833h1M793 833h1M866 833h1M963 833h2M1047 833h1M1190 833h1M1343 833h1M3 834h1M129 834h1M143 834h1M184 834h1M244 834h1M388 834h1M412 834h1M480 834h1M495 834h1M498 834h2M554 834h1M608 834h1M676 834h1M794 834h1M865 834h1M965 834h1M1047 834h1M1191 834h1M1341 834h2M2 835h1M130 835h1M142 835h1M185 835h1M244 835h1M388 835h1M412 835h1M481 835h1M494 835h1M500 835h2M553 835h1M608 835h1M676 835h1M794 835h1M864 835h1M966 835h2M1047 835h1M1191 835h1M1197 835h4M1312 835h1M1340 835h1M1 836h1M130 836h1M141 836h1M185 836h1M243 836h1M388 836h1M411 836h1M482 836h1M494 836h1M502 836h2M551 836h2M609 836h1M676 836h1M794 836h1M864 836h1M968 836h1M1046 836h1M1192 836h5M1201 836h1M1312 836h2M1339 836h1M1 837h1M131 837h1M140 837h1M186 837h1M242 837h1M389 837h1M410 837h1M483 837h1M493 837h1M504 837h5M547 837h4M609 837h1M676 837h1M795 837h1M863 837h1M969 837h1M1046 837h1M1201 837h1M1311 837h1M1313 837h1M1337 837h2M0 838h1M132 838h1M140 838h1M187 838h1M242 838h1M389 838h1M410 838h1M484 838h1M492 838h1M509 838h4M543 838h4M610 838h1M675 838h1M795 838h1M863 838h1M970 838h1M1046 838h1M1202 838h1M1311 838h1M1314 838h1M1336 838h1M133 839h1M139 839h1M187 839h1M241 839h1M389 839h1M400 839h3M409 839h1M484 839h1M491 839h1M513 839h2M541 839h2M611 839h1M675 839h1M795 839h1M863 839h1M970 839h1M1045 839h1M1202 839h1M1311 839h1M1315 839h1M1335 839h1M134 840h1M138 840h1M188 840h1M241 840h1M390 840h1M399 840h1M403 840h4M409 840h1M485 840h1M490 840h1M515 840h1M538 840h3M612 840h1M675 840h1M796 840h1M863 840h1M971 840h1M1045 840h1M1203 840h1M1311 840h1M1316 840h1M1334 840h1M134 841h1M137 841h1M189 841h1M224 841h1M240 841h1M390 841h1M398 841h1M407 841h2M486 841h1M490 841h1M516 841h1M535 841h3M612 841h1M624 841h2M664 841h1M674 841h1M796 841h1M862 841h1M972 841h1M1045 841h1M1204 841h1M1310 841h1M1316 841h1M1334 841h1M135 842h1M137 842h1M189 842h1M223 842h1M225 842h1M239 842h1M390 842h1M397 842h1M487 842h1M489 842h1M517 842h2M533 842h2M613 842h1M622 842h2M626 842h3M663 842h1M665 842h1M674 842h1M797 842h1M862 842h1M973 842h1M1044 842h1M1204 842h1M1310 842h1M1317 842h1M1333 842h1M136 843h1M190 843h1M223 843h1M226 843h1M238 843h1M391 843h1M396 843h1M488 843h1M519 843h1M530 843h3M614 843h1M621 843h1M629 843h2M662 843h1M666 843h1M674 843h1M797 843h1M862 843h1M974 843h1M1044 843h1M1205 843h1M1310 843h1M1318 843h1M1332 843h1M191 844h1M222 844h1M227 844h2M237 844h1M391 844h1M396 844h1M520 844h10M615 844h1M619 844h2M631 844h2M661 844h1M667 844h2M673 844h1M797 844h1M862 844h1M974 844h1M1043 844h1M1206 844h1M1310 844h1M1319 844h1M1331 844h1M191 845h1M222 845h1M229 845h1M235 845h2M391 845h1M395 845h1M615 845h1M617 845h2M633 845h2M659 845h2M669 845h1M673 845h1M798 845h1M861 845h1M975 845h1M1043 845h1M1206 845h1M1309 845h1M1319 845h1M1330 845h1M192 846h1M221 846h1M230 846h1M234 846h1M391 846h1M394 846h1M616 846h1M635 846h2M647 846h4M658 846h1M670 846h1M673 846h1M798 846h1M861 846h1M976 846h1M1000 846h2M1043 846h1M1207 846h1M1309 846h1M1320 846h3M1330 846h1M193 847h1M221 847h1M231 847h1M233 847h1M392 847h2M637 847h1M645 847h2M651 847h4M657 847h1M671 847h2M798 847h1M861 847h1M977 847h1M999 847h1M1002 847h3M1042 847h1M1207 847h1M1309 847h1M1323 847h4M1329 847h1M194 848h1M220 848h1M232 848h1M392 848h1M638 848h2M642 848h3M655 848h2M672 848h1M799 848h1M861 848h1M978 848h1M997 848h2M1005 848h2M1042 848h1M1208 848h1M1308 848h1M1327 848h2M195 849h2M219 849h1M640 849h2M799 849h1M860 849h1M978 849h1M996 849h1M1007 849h3M1042 849h1M1208 849h1M1308 849h1M197 850h1M219 850h1M799 850h1M860 850h1M979 850h1M995 850h1M1010 850h2M1041 850h1M1209 850h1M1308 850h1M198 851h1M218 851h1M800 851h1M860 851h1M980 851h1M993 851h2M1012 851h2M1041 851h1M1209 851h1M1308 851h1M199 852h1M205 852h5M218 852h1M800 852h1M859 852h1M981 852h1M992 852h1M1014 852h2M1041 852h1M1209 852h1M1307 852h1M200 853h5M210 853h3M217 853h1M801 853h1M859 853h1M982 853h1M990 853h2M1016 853h1M1040 853h1M1210 853h1M1307 853h1M213 854h2M217 854h1M802 854h1M859 854h1M982 854h1M988 854h2M1017 854h1M1040 854h1M1210 854h1M1307 854h1M215 855h2M803 855h1M816 855h1M848 855h1M859 855h1M983 855h1M986 855h2M1017 855h1M1039 855h1M1210 855h1M1306 855h1M804 856h1M814 856h2M817 856h2M848 856h2M858 856h1M984 856h2M1018 856h1M1038 856h1M1211 856h1M1232 856h1M1306 856h1M805 857h1M813 857h1M819 857h2M847 857h1M850 857h1M858 857h1M1019 857h1M1037 857h1M1211 857h1M1232 857h2M1306 857h1M806 858h1M811 858h2M821 858h1M847 858h1M850 858h1M858 858h1M1020 858h1M1036 858h1M1211 858h1M1231 858h1M1233 858h1M1306 858h1M807 859h1M809 859h2M822 859h2M846 859h1M851 859h1M858 859h1M1020 859h1M1036 859h1M1212 859h1M1231 859h1M1234 859h1M1248 859h1M1305 859h1M808 860h1M824 860h1M846 860h1M852 860h1M857 860h1M1021 860h1M1035 860h1M1212 860h1M1230 860h1M1234 860h1M1247 860h1M1249 860h1M1305 860h1M825 861h1M845 861h1M853 861h1M857 861h1M1022 861h1M1034 861h1M1213 861h1M1230 861h1M1235 861h1M1247 861h1M1249 861h1M1305 861h1M825 862h1M845 862h1M854 862h1M857 862h1M1023 862h1M1033 862h1M1213 862h1M1229 862h1M1235 862h1M1246 862h1M1250 862h1M1305 862h1M826 863h1M844 863h1M854 863h1M857 863h1M1023 863h1M1029 863h4M1213 863h1M1229 863h1M1236 863h1M1245 863h1M1251 863h1M1288 863h2M1304 863h1M827 864h1M844 864h1M855 864h2M1024 864h5M1214 864h1M1228 864h1M1236 864h1M1245 864h1M1251 864h1M1288 864h1M1290 864h2M1303 864h2M827 865h1M844 865h1M856 865h1M1214 865h1M1228 865h1M1237 865h1M1244 865h1M1252 865h1M1287 865h1M1292 865h2M1301 865h2M828 866h1M843 866h1M1214 866h1M1227 866h1M1237 866h1M1243 866h1M1253 866h1M1287 866h1M1294 866h2M1298 866h3M829 867h1M843 867h1M1215 867h1M1227 867h1M1238 867h1M1243 867h1M1253 867h1M1287 867h1M1296 867h2M829 868h1M842 868h1M1215 868h1M1226 868h1M1238 868h1M1242 868h1M1254 868h1M1286 868h1M830 869h1M842 869h1M1215 869h1M1226 869h1M1239 869h1M1241 869h1M1255 869h1M1286 869h1M831 870h1M841 870h1M1216 870h1M1225 870h1M1239 870h1M1241 870h1M1255 870h1M1286 870h1M831 871h1M841 871h1M1216 871h3M1225 871h1M1240 871h1M1256 871h1M1285 871h1M832 872h5M840 872h1M1219 872h4M1224 872h1M1257 872h1M1285 872h1M837 873h4M1223 873h2M1258 873h1M1285 873h1M1259 874h2M1284 874h1M1261 875h1M1284 875h1M1262 876h1M1284 876h1M1263 877h1M1283 877h1M1264 878h1M1283 878h1M1265 879h2M1283 879h1M1267 880h2M1282 880h1M1269 881h1M1282 881h1M1270 882h2M1282 882h1M1272 883h2M1281 883h1M1274 884h2M1281 884h1M1276 885h2M1281 885h1M1278 886h3M1280 887h1" stroke="#1e90ff" stroke-width="1" fill="none" transform="translate(0,0.5)"/>
</g>
<g shape-rendering="crispEdges">
<rect x="0" y="24" width="1602" height="1" fill="#000"/>
<rect x="1601" y="24" width="1" height="902" fill="#000"/>
<rect x="0" y="577" width="1602" height="1" fill="#000"/>
<rect x="0" y="579" width="1602" height="1" fill="#000"/>
<rect x="0" y="749" width="1602" height="1" fill="#000"/>
<rect x="0" y="751" width="1602" height="1" fill="#000"/>
<rect x="0" y="925" width="1602" height="1" fill="#000"/>
<rect x="1647" y="21" width="1" height="921" fill="#e2e2e2"/>
</g>
<g shape-rendering="crispEdges">
<rect x="1602" y="112" width="2" height="1" fill="#000"/>
<rect x="1602" y="211" width="2" height="1" fill="#000"/>
<rect x="1602" y="244" width="2" height="1" fill="#000"/>
<rect x="1602" y="277" width="2" height="1" fill="#000"/>
<rect x="1602" y="310" width="2" height="1" fill="#000"/>
<rect x="1602" y="343" width="2" height="1" fill="#000"/>
<rect x="1602" y="376" width="2" height="1" fill="#000"/>
<rect x="1602" y="409" width="2" height="1" fill="#000"/>
<rect x="1602" y="442" width="2" height="1" fill="#000"/>
<rect x="1602" y="475" width="2" height="1" fill="#000"/>
<rect x="1602" y="508" width="2" height="1" fill="#000"/>
<rect x="1602" y="541" width="2" height="1" fill="#000"/>
<rect x="1602" y="574" width="2" height="1" fill="#000"/>
</g><g font-family="Liberation Sans, sans-serif">
<text transform="translate(1607.30,49.00) scale(0.9798,1)" font-size="9.60" fill="#000">112.350</text>
<text transform="translate(1607.30,149.00) scale(0.9798,1)" font-size="9.60" fill="#000">110.190</text>
</g><g shape-rendering="crispEdges">
<rect x="1603" y="44" width="41" height="11" fill="#ff0000"/>
<rect x="1603" y="72" width="41" height="11" fill="#ff0000"/>
<rect x="1603" y="94" width="41" height="11" fill="#000000"/>
<rect x="1603" y="119" width="41" height="11" fill="#32cd32"/>
<rect x="1603" y="143" width="41" height="11" fill="#0000ff"/>
<rect x="1603" y="175" width="41" height="11" fill="#0000ff"/>
<rect x="1602" y="581" width="2" height="1" fill="#000"/>
<rect x="1602" y="639" width="2" height="1" fill="#000"/>
<rect x="1602" y="747" width="2" height="1" fill="#000"/>
<rect x="1602" y="753" width="2" height="1" fill="#000"/>
<rect x="1602" y="787" width="2" height="1" fill="#000"/>
<rect x="1602" y="838" width="2" height="1" fill="#000"/>
<rect x="1602" y="899" width="2" height="1" fill="#000"/>
<rect x="1602" y="923" width="2" height="1" fill="#000"/>
<rect x="56" y="926" width="1" height="3" fill="#000"/>
<rect x="120" y="926" width="1" height="3" fill="#000"/>
<rect x="184" y="926" width="1" height="3" fill="#000"/>
<rect x="248" y="926" width="1" height="3" fill="#000"/>
<rect x="312" y="926" width="1" height="3" fill="#000"/>
<rect x="376" y="926" width="1" height="3" fill="#000"/>
<rect x="440" y="926" width="1" height="3" fill="#000"/>
<rect x="504" y="926" width="1" height="3" fill="#000"/>
<rect x="568" y="926" width="1" height="3" fill="#000"/>
<rect x="632" y="926" width="1" height="3" fill="#000"/>
<rect x="696" y="926" width="1" height="3" fill="#000"/>
<rect x="760" y="926" width="1" height="3" fill="#000"/>
<rect x="824" y="926" width="1" height="3" fill="#000"/>
<rect x="888" y="926" width="1" height="3" fill="#000"/>
<rect x="952" y="926" width="1" height="3" fill="#000"/>
<rect x="1016" y="926" width="1" height="3" fill="#000"/>
<rect x="1080" y="926" width="1" height="3" fill="#000"/>
<rect x="1144" y="926" width="1" height="3" fill="#000"/>
<rect x="1208" y="926" width="1" height="3" fill="#000"/>
<rect x="1272" y="926" width="1" height="3" fill="#000"/>
<rect x="1336" y="926" width="1" height="3" fill="#000"/>
</g>
<g font-family="Liberation Sans, sans-serif">
<text transform="translate(1607.30,116.00) scale(0.9798,1)" font-size="9.60" fill="#000">110.910</text>
<text transform="translate(1607.30,215.00) scale(0.9597,1)" font-size="9.60" fill="#000">108.770</text>
<text transform="translate(1607.30,248.00) scale(0.9597,1)" font-size="9.60" fill="#000">108.050</text>
<text transform="translate(1607.30,281.00) scale(0.9597,1)" font-size="9.60" fill="#000">107.350</text>
<text transform="translate(1607.30,314.00) scale(0.9597,1)" font-size="9.60" fill="#000">106.630</text>
<text transform="translate(1607.30,347.00) scale(0.9597,1)" font-size="9.60" fill="#000">105.930</text>
<text transform="translate(1607.30,380.00) scale(0.9597,1)" font-size="9.60" fill="#000">105.210</text>
<text transform="translate(1607.30,413.00) scale(0.9597,1)" font-size="9.60" fill="#000">104.510</text>
<text transform="translate(1607.30,446.00) scale(0.9597,1)" font-size="9.60" fill="#000">103.790</text>
<text transform="translate(1607.30,479.00) scale(0.9597,1)" font-size="9.60" fill="#000">103.070</text>
<text transform="translate(1607.30,512.00) scale(0.9597,1)" font-size="9.60" fill="#000">102.370</text>
<text transform="translate(1607.30,545.00) scale(0.9597,1)" font-size="9.60" fill="#000">101.650</text>
<text transform="translate(1607.30,578.00) scale(0.9597,1)" font-size="9.60" fill="#000">100.950</text>
<text transform="translate(1607.30,53.00) scale(0.9798,1)" font-size="9.60" fill="#fff">112.232</text>
<text transform="translate(1607.30,81.00) scale(1.0008,1)" font-size="9.60" fill="#fff">111.629</text>
<text transform="translate(1607.30,103.00) scale(1.0008,1)" font-size="9.60" fill="#fff">111.190</text>
<text transform="translate(1607.30,128.00) scale(0.9798,1)" font-size="9.60" fill="#fff">110.618</text>
<text transform="translate(1607.30,152.00) scale(0.9798,1)" font-size="9.60" fill="#fff">110.101</text>
<text transform="translate(1607.30,184.00) scale(0.9597,1)" font-size="9.60" fill="#fff">109.413</text>
<text transform="translate(1605.00,590.00) scale(0.9639,1)" font-size="9.60" fill="#000">0.8339</text>
<text transform="translate(1605.00,643.00) scale(0.9635,1)" font-size="9.60" fill="#000">0.00</text>
<text transform="translate(1605.00,745.40) scale(0.9676,1)" font-size="9.60" fill="#000">-1.5799</text>
<text transform="translate(1605.00,762.00) scale(0.9491,1)" font-size="9.60" fill="#000">100</text>
<text transform="translate(1605.00,791.00) scale(0.9553,1)" font-size="9.60" fill="#000">80</text>
<text transform="translate(1605.00,842.00) scale(0.9553,1)" font-size="9.60" fill="#000">50</text>
<text transform="translate(1605.00,903.00) scale(0.9553,1)" font-size="9.60" fill="#000">15</text>
<text transform="translate(1605.00,921.20) scale(0.9553,1)" font-size="9.60" fill="#000">0</text>
<text transform="translate(-8.30,938.30) scale(0.9650,1)" font-size="9.60" fill="#000">2 Sep 2019</text>
<text transform="translate(55.70,938.30) scale(0.9650,1)" font-size="9.60" fill="#000">12 Sep 2019</text>
<text transform="translate(119.70,938.30) scale(0.9650,1)" font-size="9.60" fill="#000">22 Sep 2019</text>
<text transform="translate(183.70,938.30) scale(0.9650,1)" font-size="9.60" fill="#000">1 Oct 2019</text>
<text transform="translate(247.70,938.30) scale(0.9650,1)" font-size="9.60" fill="#000">10 Oct 2019</text>
<text transform="translate(311.70,938.30) scale(0.9650,1)" font-size="9.60" fill="#000">20 Oct 2019</text>
<text transform="translate(375.70,938.30) scale(0.9650,1)" font-size="9.60" fill="#000">29 Oct 2019</text>
<text transform="translate(439.70,938.30) scale(0.9650,1)" font-size="9.60" fill="#000">7 Nov 2019</text>
<text transform="translate(503.70,938.30) scale(0.9650,1)" font-size="9.60" fill="#000">17 Nov 2019</text>
<text transform="translate(567.70,938.30) scale(0.9650,1)" font-size="9.60" fill="#000">26 Nov 2019</text>
<text transform="translate(631.70,938.30) scale(0.9650,1)" font-size="9.60" fill="#000">5 Dec 2019</text>
<text transform="translate(695.70,938.30) scale(0.9650,1)" font-size="9.60" fill="#000">15 Dec 2019</text>
<text transform="translate(759.70,938.30) scale(0.9650,1)" font-size="9.60" fill="#000">24 Dec 2019</text>
<text transform="translate(823.70,938.30) scale(0.9650,1)" font-size="9.60" fill="#000">2 Jan 2020</text>
<text transform="translate(887.70,938.30) scale(0.9650,1)" font-size="9.60" fill="#000">12 Jan 2020</text>
<text transform="translate(951.70,938.30) scale(0.9650,1)" font-size="9.60" fill="#000">21 Jan 2020</text>
<text transform="translate(1015.70,938.30) scale(0.9650,1)" font-size="9.60" fill="#000">30 Jan 2020</text>
<text transform="translate(1079.70,938.30) scale(0.9650,1)" font-size="9.60" fill="#000">9 Feb 2020</text>
<text transform="translate(1143.70,938.30) scale(0.9650,1)" font-size="9.60" fill="#000">18 Feb 2020</text>
<text transform="translate(1207.70,938.30) scale(0.9650,1)" font-size="9.60" fill="#000">27 Feb 2020</text>
<text transform="translate(1271.70,938.30) scale(0.9650,1)" font-size="9.60" fill="#000">8 Mar 2020</text>
<text transform="translate(1335.70,938.30) scale(0.9650,1)" font-size="9.60" fill="#000">17 Mar 2020</text>
<text transform="translate(-3.50,592.00) scale(0.9781,1)" font-size="9.60" fill="#000">MACD(12,26,9) 0.7242 -0.0617</text>
<text transform="translate(-4.50,764.00) scale(0.9725,1)" font-size="9.60" fill="#000">RSI(14) 61.2560</text>
<text transform="translate(7.20,36.00) scale(0.9814,1)" font-size="9.60" fill="#000">USDJPY-,Daily</text>
<text transform="translate(77.50,36.00) scale(0.9943,1)" font-size="9.60" fill="#000">111.096 111.668 110.741 111.190</text>
<polygon points="0,32 2.4,35.2 0,35.2" fill="#000"/>
</g>
<g font-family="Liberation Sans, sans-serif">
<rect x="0" y="44" width="216" height="64.5" fill="#fff"/>
<rect x="0" y="44" width="46.5" height="24.5" fill="url(#gBtn)"/>
<rect x="162.5" y="44" width="51.5" height="24.5" fill="url(#gBtn)"/>
<rect x="0" y="68" width="104" height="40" fill="url(#gBig)"/>
<rect x="106" y="68" width="108" height="40" fill="url(#gBig)"/>
<path d="M46 44V68.5H103.5V108" fill="none" stroke="#b80c0c" stroke-width="1"/>
<path d="M163 44V68.5H106.5V108" fill="none" stroke="#b80c0c" stroke-width="1"/>
<path d="M213.5 44V108M0 107.5H104M106 107.5H214" fill="none" stroke="#b00808" stroke-width="1"/>
<rect x="0" y="67" width="43" height="1" fill="#f08080"/>
<rect x="166" y="67" width="44" height="1" fill="#f08080"/>
<rect x="49.5" y="44.5" width="110.5" height="21" fill="#fff" stroke="#a4a4ac" stroke-width="1"/>
<rect x="50.5" y="45.5" width="19.5" height="19" fill="url(#gSpin)" stroke="#fafafa" stroke-width="0.8"/>
<rect x="139" y="45.5" width="20" height="19" fill="url(#gSpin)" stroke="#fafafa" stroke-width="0.8"/>
<rect x="70" y="45" width="1" height="20" fill="#a8a8b0"/>
<rect x="138" y="45" width="1" height="20" fill="#a8a8b0"/>
<polygon points="57.5,53.5 62.5,53.5 60,56.3" fill="#4858b0"/>
<polygon points="146.5,56 151.5,56 149,53.2" fill="#4858b0"/>
<text x="135" y="59.3" font-size="12.4" fill="#101010" text-anchor="end">1.00</text>
<text x="7.2" y="60" font-size="12.6" fill="#fff" textLength="26" lengthAdjust="spacingAndGlyphs">SELL</text>
<text x="175" y="60" font-size="12.6" fill="#fff" textLength="24" lengthAdjust="spacingAndGlyphs">BUY</text>
<text x="18.3" y="98" font-size="10.6" font-weight="bold" fill="#fff" textLength="20" lengthAdjust="spacingAndGlyphs">111</text>
<text x="43" y="98.3" font-size="33.5" fill="#fff" stroke="url(#gBig)" stroke-width="0.7" textLength="35" lengthAdjust="spacingAndGlyphs">19</text>
<text x="81.8" y="83.7" font-size="12" font-weight="bold" fill="#fff">0</text>
<text x="128.3" y="98" font-size="10.6" font-weight="bold" fill="#fff" textLength="20" lengthAdjust="spacingAndGlyphs">111</text>
<text x="153" y="98.3" font-size="33.5" fill="#fff" stroke="url(#gBig)" stroke-width="0.7" textLength="35" lengthAdjust="spacingAndGlyphs">22</text>
<text x="192.8" y="83.7" font-size="12" font-weight="bold" fill="#fff">9</text>
</g>
<rect x="0" y="0" width="1648" height="20" fill="#f0f0f0"/>
<rect x="0" y="19" width="1648" height="1" fill="#f8f8f8"/>
<rect x="0" y="20" width="1648" height="1" fill="#a4a4a4"/>
<rect x="0" y="21" width="1647" height="1" fill="#696969"/>
<rect x="237.5" y="0" width="23.5" height="18" fill="url(#chk)"/>
<rect x="236.5" y="18" width="25.5" height="1.5" fill="#fcfcfc"/>
<rect x="389" y="0" width="24" height="18" fill="url(#chk)"/>
<rect x="388" y="18" width="26" height="1.5" fill="#fcfcfc"/>
<rect x="417.5" y="0" width="23.5" height="18" fill="url(#chk)"/>
<rect x="416.5" y="18" width="25.5" height="1.5" fill="#fcfcfc"/>
<rect x="577.5" y="0" width="23.5" height="18" fill="url(#chk)"/>
<rect x="576.5" y="18" width="25.5" height="1.5" fill="#fcfcfc"/>
<rect x="1051.5" y="0" width="23.5" height="18" fill="url(#chk)"/>
<rect x="1050.5" y="18" width="25.5" height="1.5" fill="#fcfcfc"/>
<rect x="198" y="0" width="1" height="20" fill="#a0a0a0"/>
<rect x="199" y="0" width="1" height="20" fill="#fbfbfb"/>
<rect x="202" y="0" width="3" height="1" fill="#9a9a9a"/>
<rect x="202" y="2" width="3" height="1" fill="#9a9a9a"/>
<rect x="202" y="4" width="3" height="1" fill="#9a9a9a"/>
<rect x="202" y="6" width="3" height="1" fill="#9a9a9a"/>
<rect x="202" y="8" width="3" height="1" fill="#9a9a9a"/>
<rect x="202" y="10" width="3" height="1" fill="#9a9a9a"/>
<rect x="202" y="12" width="3" height="1" fill="#9a9a9a"/>
<rect x="202" y="14" width="3" height="1" fill="#9a9a9a"/>
<rect x="202" y="16" width="3" height="1" fill="#9a9a9a"/>
<rect x="236" y="0" width="1" height="18" fill="#a0a0a0"/>
<rect x="293" y="0" width="1" height="18" fill="#a0a0a0"/>
<rect x="383" y="0" width="1" height="18" fill="#a0a0a0"/>
<rect x="388" y="0" width="1" height="18" fill="#a0a0a0"/>
<rect x="416" y="0" width="1" height="18" fill="#a0a0a0"/>
<rect x="445" y="0" width="1" height="18" fill="#a0a0a0"/>
<rect x="566" y="0" width="1" height="20" fill="#a0a0a0"/>
<rect x="567" y="0" width="1" height="20" fill="#fbfbfb"/>
<rect x="570" y="0" width="3" height="1" fill="#9a9a9a"/>
<rect x="570" y="2" width="3" height="1" fill="#9a9a9a"/>
<rect x="570" y="4" width="3" height="1" fill="#9a9a9a"/>
<rect x="570" y="6" width="3" height="1" fill="#9a9a9a"/>
<rect x="570" y="8" width="3" height="1" fill="#9a9a9a"/>
<rect x="570" y="10" width="3" height="1" fill="#9a9a9a"/>
<rect x="570" y="12" width="3" height="1" fill="#9a9a9a"/>
<rect x="570" y="14" width="3" height="1" fill="#9a9a9a"/>
<rect x="570" y="16" width="3" height="1" fill="#9a9a9a"/>
<rect x="576" y="0" width="1" height="18" fill="#a0a0a0"/>
<rect x="633" y="0" width="1" height="18" fill="#a0a0a0"/>
<rect x="872" y="0" width="1" height="20" fill="#a0a0a0"/>
<rect x="873" y="0" width="1" height="20" fill="#fbfbfb"/>
<rect x="876" y="0" width="3" height="1" fill="#9a9a9a"/>
<rect x="876" y="2" width="3" height="1" fill="#9a9a9a"/>
<rect x="876" y="4" width="3" height="1" fill="#9a9a9a"/>
<rect x="876" y="6" width="3" height="1" fill="#9a9a9a"/>
<rect x="876" y="8" width="3" height="1" fill="#9a9a9a"/>
<rect x="876" y="10" width="3" height="1" fill="#9a9a9a"/>
<rect x="876" y="12" width="3" height="1" fill="#9a9a9a"/>
<rect x="876" y="14" width="3" height="1" fill="#9a9a9a"/>
<rect x="876" y="16" width="3" height="1" fill="#9a9a9a"/>
<rect x="1050" y="0" width="1" height="18" fill="#a0a0a0"/>
<rect x="1133" y="0" width="1" height="20" fill="#a0a0a0"/>
<rect x="1134" y="0" width="1" height="20" fill="#fbfbfb"/>
<text x="-10.3" y="11.5" font-size="12.4" font-family="&quot;Liberation Sans&quot;, &quot;Noto Sans CJK SC&quot;, sans-serif" fill="#000" textLength="37.5" lengthAdjust="spacingAndGlyphs">新订单</text>
<text x="144.6" y="11.5" font-size="11.8" font-family="&quot;Liberation Sans&quot;, &quot;Noto Sans CJK SC&quot;, sans-serif" fill="#000" textLength="46.5" lengthAdjust="spacingAndGlyphs">自动交易</text>
<path d="M44.5 1.2L54.7 7.3L55 10.1L46.7 15.7L39.1 10.2Q42.6 8 43.2 5.6Z" fill="#b9780e" stroke="#a8700e" stroke-width="0.7" stroke-linejoin="round"/>
<path d="M45 2.6L53.5 7.7L46.6 12.7L41 9.2Q43.9 7 45 2.6Z" fill="url(#gGold)"/>
<path d="M40.3 10.5L46.8 14.8" stroke="#f6cc48" stroke-width="1.5" fill="none"/>
<path d="M47.6 14.2L54.2 9.6" stroke="#e6d9a0" stroke-width="1.3" fill="none"/>
<polygon points="69.2,1.2 72.3,2.6 72.3,9.4 69.2,8.6" fill="#0a9af8"/>
<polygon points="69.2,1.2 76.5,0 79.8,1.4 72.3,2.6" fill="#6a8ae0"/>
<polygon points="72.3,2.6 79.8,1.4 79.8,9 72.3,9.4" fill="#22a8ff"/>
<path d="M69.2 1.2L72.3 2.6V9.4M72.3 2.6L79.8 1.4" stroke="#d8f0ff" stroke-width="0.6" fill="none"/>
<rect x="74.2" y="4.3" width="4.2" height="1.4" fill="#e8f6ff" transform="rotate(-6 76 5)"/>
<path d="M70.6 15.3Q67.5 15.2 67.7 12.6Q67.9 10.4 70.6 10.4Q71.3 8.4 73.8 8.5Q75.6 7.6 77.4 9.6Q79.8 8.6 81 10.6Q83 11 82.7 13.2Q82.4 15.3 79.8 15.3Z" fill="url(#gCloud)" stroke="#3e5c9c" stroke-width="1"/>
<path d="M103.3 8L103.3 15.9A7.9 7.9 0 0 0 105.5 0.6Z" fill="url(#gSigG)"/>
<g fill="none" stroke="#4a78d4" stroke-width="1.1">
<path d="M103 12.4A4.4 4.4 0 1 1 107 6" opacity="0.8"/>
<path d="M100.5 15A7.4 7.4 0 1 1 109.8 5" opacity="0.6"/>
<path d="M107.3 8.6A4.4 4.4 0 0 1 105.5 11.6" stroke="#3a8a6a" opacity="0.7"/>
<path d="M110.3 9A7.4 7.4 0 0 1 106 14.8" stroke="#2a7a7a" opacity="0.7"/>
</g>
<rect x="102.8" y="8" width="1.2" height="7.9" fill="#20a820"/>
<circle cx="102.9" cy="7.6" r="1.8" fill="#2456c8"/>
<polygon points="122.4,7.6 137.2,6.2 130.8,15.8" fill="url(#gFace)" stroke="#c8940c" stroke-width="0.8"/>
<ellipse cx="129.8" cy="4.8" rx="7.8" ry="2.7" fill="#52aae2" stroke="#2a7cac" stroke-width="0.7"/>
<ellipse cx="129.9" cy="0.8" rx="3.6" ry="4" fill="#6cbcec" stroke="#2a7cac" stroke-width="0.5"/>
<circle cx="134.4" cy="11.6" r="4.2" fill="#e22a12"/>
<circle cx="134.4" cy="11.6" r="3.6" fill="none" stroke="#f45a3a" stroke-width="0.6" opacity="0.7"/>
<rect x="132.9" y="10.1" width="3.1" height="3.1" fill="#fff"/>
<g stroke="#555" stroke-width="1.1" fill="#555">
<line x1="216.5" y1="3" x2="216.5" y2="16"/>
<line x1="214" y1="13.6" x2="226.5" y2="13.6"/>
<polygon points="216.5,1.8 214.6,4.6 218.4,4.6" stroke="none"/>
<polygon points="228,13.6 225.2,11.7 225.2,15.5" stroke="none"/>
</g>
<path d="M222.5 3.3V11.8M222.5 4.6H225.2M219.8 10.6H222.5" stroke="#0a8a0a" stroke-width="1.3" fill="none"/>
<g stroke="#555" stroke-width="1.1" fill="#555">
<line x1="244.5" y1="3" x2="244.5" y2="16"/>
<line x1="242" y1="13.6" x2="254.5" y2="13.6"/>
<polygon points="244.5,1.8 242.6,4.6 246.4,4.6" stroke="none"/>
<polygon points="256,13.6 253.2,11.7 253.2,15.5" stroke="none"/>
</g>
<rect x="250" y="0" width="1.2" height="12" fill="#0a8a0a"/>
<rect x="248.4" y="2.4" width="4.4" height="7.2" fill="#30e030" stroke="#0a8a0a" stroke-width="0.9"/>
<g stroke="#555" stroke-width="1.1" fill="#555">
<line x1="272.5" y1="3" x2="272.5" y2="16"/>
<line x1="270" y1="13.6" x2="282.5" y2="13.6"/>
<polygon points="272.5,1.8 270.6,4.6 274.4,4.6" stroke="none"/>
<polygon points="284,13.6 281.2,11.7 281.2,15.5" stroke="none"/>
</g>
<path d="M271 10.8Q275 5.5 277.3 5.3Q279 5.3 283 9.2" stroke="#0a8a0a" stroke-width="1.3" fill="none"/>
<line x1="312.2" y1="10" x2="317" y2="14.6" stroke="#a87c0c" stroke-width="2.9" stroke-linecap="round"/>
<line x1="312.2" y1="10" x2="317" y2="14.6" stroke="#f0c830" stroke-width="1.6" stroke-linecap="round"/>
<circle cx="308" cy="6" r="5.3" fill="#d4ecfa" stroke="#3a80cc" stroke-width="1.3"/>
<rect x="305" y="5.2" width="6" height="1.7" fill="#3a7eb0"/>
<rect x="307.15" y="3" width="1.7" height="6" fill="#3a7eb0"/>
<line x1="340.2" y1="10" x2="345" y2="14.6" stroke="#a87c0c" stroke-width="2.9" stroke-linecap="round"/>
<line x1="340.2" y1="10" x2="345" y2="14.6" stroke="#f0c830" stroke-width="1.6" stroke-linecap="round"/>
<circle cx="336" cy="6" r="5.3" fill="#d4ecfa" stroke="#3a80cc" stroke-width="1.3"/>
<rect x="333" y="5.2" width="6" height="1.7" fill="#3a7eb0"/>
<rect x="358" y="0" width="7.7" height="7.7" rx="0.8" fill="#3da012"/>
<rect x="358.9" y="2.7" width="5.9" height="4.3" fill="#fff"/>
<rect x="359.8" y="4.1" width="4.1" height="1" fill="#a8d890"/>
<rect x="359" y="1" width="1" height="1" fill="#e8f0ff"/>
<rect x="366.2" y="0" width="7.7" height="7.7" rx="0.8" fill="#1c50c8"/>
<rect x="367.09999999999997" y="2.7" width="5.9" height="4.3" fill="#fff"/>
<rect x="368.0" y="4.1" width="4.1" height="1" fill="#a0b4e8"/>
<rect x="367.2" y="1" width="1" height="1" fill="#e8f0ff"/>
<rect x="358" y="8.3" width="7.7" height="7.7" rx="0.8" fill="#1c50c8"/>
<rect x="358.9" y="11.0" width="5.9" height="4.3" fill="#fff"/>
<rect x="359.8" y="12.4" width="4.1" height="1" fill="#a0b4e8"/>
<rect x="359" y="9.3" width="1" height="1" fill="#e8f0ff"/>
<rect x="366.2" y="8.3" width="7.7" height="7.7" rx="0.8" fill="#3da012"/>
<rect x="367.09999999999997" y="11.0" width="5.9" height="4.3" fill="#fff"/>
<rect x="368.0" y="12.4" width="4.1" height="1" fill="#a8d890"/>
<rect x="367.2" y="9.3" width="1" height="1" fill="#e8f0ff"/>
<g stroke="#555" stroke-width="1.1" fill="#555">
<line x1="396.5" y1="3" x2="396.5" y2="16"/>
<line x1="394" y1="13.6" x2="406.5" y2="13.6"/>
<polygon points="396.5,1.8 394.6,4.6 398.4,4.6" stroke="none"/>
<polygon points="408,13.6 405.2,11.7 405.2,15.5" stroke="none"/>
</g>
<polygon points="401.2,4.2 401.2,10.6 405.2,7.4" fill="#80e880" stroke="#18a018" stroke-width="1"/>
<g stroke="#555" stroke-width="1.1" fill="#555">
<line x1="424.5" y1="3" x2="424.5" y2="16"/>
<line x1="422" y1="13.6" x2="434.5" y2="13.6"/>
<polygon points="424.5,1.8 422.6,4.6 426.4,4.6" stroke="none"/>
<polygon points="436,13.6 433.2,11.7 433.2,15.5" stroke="none"/>
</g>
<rect x="430" y="2.2" width="1.2" height="9.6" fill="#1868b8"/>
<path d="M436 7.4H432M434.2 5.2L431.8 7.4L434.2 9.6" stroke="#d04808" stroke-width="1.2" fill="none"/>
<path d="M456 1.5Q456 0.5 457 0.5H463.5L466.8 3.8V12.3Q466.8 13.3 465.8 13.3H457Q456 13.3 456 12.3Z" fill="#fff" stroke="#808080" stroke-width="1"/>
<path d="M463.5 0.5V3.8H466.8" fill="#e8e8e8" stroke="#808080" stroke-width="0.8"/>
<path d="M461.8 3.4Q459.6 2.8 459.6 5.5V10.8M458 6.5H461.4" stroke="#444" stroke-width="1.1" fill="none"/>
<path d="M463.4 6.4H467V10.2H470.8V13.8H467V17.6H463.4V13.8H459.6V10.2H463.4Z" fill="#28d828" stroke="#0a900a" stroke-width="0.9"/>
<polygon points="477,7 482.4,7 479.7,10" fill="#000"/>
<circle cx="501" cy="8" r="7.8" fill="url(#gClk)"/>
<circle cx="501" cy="8" r="5" fill="#f4f6fa"/>
<path d="M500.6 4.4V8.4H503.6" stroke="#333" stroke-width="0.9" fill="none"/>
<circle cx="501" cy="8" r="4.2" fill="none" stroke="#888" stroke-width="0.6" stroke-dasharray="0.5 1.7"/>
<polygon points="516,7 521.4,7 518.7,10" fill="#000"/>
<rect x="532.5" y="1.5" width="15.4" height="13" fill="#fff" stroke="#3a78c8" stroke-width="1.1"/>
<rect x="532" y="1" width="16.4" height="2.6" fill="#3a78c8"/>
<rect x="533" y="8.6" width="14.4" height="1" fill="#8ab0e0"/>
<path d="M534.5 7.3L537 6.8L539 5.5L541 6.6L543.5 6.2L546 5.2" stroke="#b02010" stroke-width="1.2" fill="none"/>
<path d="M534.5 12.6L537 11.6L539 12.6L541 11.2L543 10.2L546 12.4" stroke="#109020" stroke-width="1.2" fill="none"/>
<polygon points="554.8,7 560.1999999999999,7 557.5,10" fill="#000"/>
<polygon points="584,1 584,12.2 586.7,10 589.4,15.2 591.2,14.2 588.5,9.2 592.2,8.8" fill="#4a4a4a"/>
<path d="M609 8.5H615.3M617.7 8.5H624M616.5 1V7.3M616.5 9.7V16" stroke="#444" stroke-width="1.1" fill="none"/>
<rect x="650" y="2" width="1.2" height="13" fill="#444"/>
<rect x="673" y="8" width="12" height="1.2" fill="#444"/>
<line x1="701" y1="14.7" x2="713" y2="3" stroke="#444" stroke-width="1.1"/>
<g stroke="#444" stroke-width="0.9" fill="none"><line x1="726.6" y1="10" x2="735" y2="1.8"/><line x1="728" y1="14" x2="739.5" y2="3"/><line x1="731.5" y1="15" x2="741" y2="6"/><path d="M729 13.5L730 8.5L732 11L733 6L735.2 8.5L736 4L738.3 6.5L738.8 0.5"/></g>
<text x="737.8" y="16.8" font-size="6.6" font-weight="bold" fill="#333" font-family="Liberation Sans, sans-serif">E</text>
<line x1="756" y1="1.3" x2="769" y2="1.3" stroke="#444" stroke-width="1" stroke-dasharray="1 1"/>
<line x1="756" y1="4.7" x2="769" y2="4.7" stroke="#444" stroke-width="1" stroke-dasharray="1 1"/>
<line x1="756" y1="8.7" x2="769" y2="8.7" stroke="#444" stroke-width="1" stroke-dasharray="1 1"/>
<line x1="756" y1="12.3" x2="765" y2="12.3" stroke="#444" stroke-width="1" stroke-dasharray="1 1"/>
<text x="765.6" y="16.8" font-size="6.6" font-weight="bold" fill="#333" font-family="Liberation Sans, sans-serif">F</text>
<text x="786.2" y="12.8" font-size="12.4" fill="#555" font-family="Liberation Sans, sans-serif">A</text>
<rect x="813.5" y="2.8" width="11.6" height="11.6" fill="none" stroke="#444" stroke-width="1" stroke-dasharray="1 1"/>
<path d="M815.4 5.6H822.8M819.1 5.6V12.8" stroke="#555" stroke-width="1.5" fill="none"/>
<polygon points="843.4,2 846.9,5.6 839.9,5.6" fill="#444"/><rect x="842.3" y="5.6" width="2.2" height="1.4" fill="#444"/>
<path d="M841.8 9.5L844 11.8L848.4 6.6" stroke="#444" stroke-width="1.2" fill="none"/>
<polygon points="850.7,15 847.2,11.4 854.2,11.4" fill="#444"/><rect x="849.6" y="10" width="2.2" height="1.4" fill="#444"/>
<polygon points="860.8,7 866.1999999999999,7 863.5,10" fill="#000"/>
<g font-family="Liberation Sans, sans-serif" font-size="10.2" fill="#333">
<text x="887.2" y="11.8" textLength="13.4" lengthAdjust="spacingAndGlyphs">M1</text>
<text x="915.7" y="11.8" textLength="13" lengthAdjust="spacingAndGlyphs">M5</text>
<text x="941.6" y="11.8" textLength="18.2" lengthAdjust="spacingAndGlyphs">M15</text>
<text x="969.6" y="11.8" textLength="18.2" lengthAdjust="spacingAndGlyphs">M30</text>
<text x="1000.3" y="11.8" textLength="12.6" lengthAdjust="spacingAndGlyphs">H1</text>
<text x="1027.6" y="11.8" textLength="13" lengthAdjust="spacingAndGlyphs">H4</text>
<text x="1056.7" y="11.8" textLength="12.2" lengthAdjust="spacingAndGlyphs">D1</text>
<text x="1084" y="11.8" textLength="14.8" lengthAdjust="spacingAndGlyphs">W1</text>
<text x="1110.4" y="11.8" textLength="15.2" lengthAdjust="spacingAndGlyphs">MN</text>
</g>
<line x1="1600.8" y1="8.3" x2="1596.2" y2="12.8" stroke="#2050d0" stroke-width="2.4" stroke-linecap="round"/>
<circle cx="1603.5" cy="5.3" r="4" fill="#f6f6ff" stroke="#2858d8" stroke-width="1.3"/>
<path d="M1639.5 9.5L1640.2 11.6L1637 9.8" fill="#888"/>
<ellipse cx="1636.3" cy="5" rx="6.6" ry="4.8" fill="url(#gChat)" stroke="#8a8a8a" stroke-width="0.9"/>
<path d="M1624.5 12.5L1624.3 14.8L1627 13.2" fill="#888"/>
<ellipse cx="1627.3" cy="9.6" rx="5" ry="3.9" fill="url(#gChat)" stroke="#8a8a8a" stroke-width="0.9"/>
</svg></body></html>
